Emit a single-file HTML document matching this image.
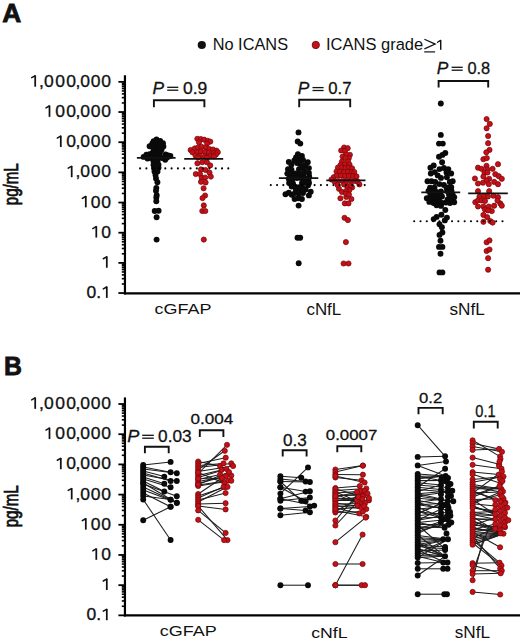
<!DOCTYPE html>
<html><head><meta charset="utf-8"><title>Figure</title><style>
html,body{margin:0;padding:0;background:#fff;overflow:hidden;}
svg{display:block;}
text{font-family:"Liberation Sans",sans-serif;fill:#111;stroke:#111;stroke-width:0.28px;}
</style></head>
<body><svg width="520" height="642" viewBox="0 0 520 642">
<rect width="520" height="642" fill="#fff"/>
<line x1="124.95" y1="75.26" x2="124.95" y2="294.45" stroke="#000" stroke-width="2.2"/>
<line x1="123.85" y1="293.35" x2="520" y2="293.35" stroke="#000" stroke-width="2.3"/>
<line x1="118.4" y1="293.05" x2="125" y2="293.05" stroke="#000" stroke-width="1.8"/>
<line x1="121.8" y1="283.97" x2="125" y2="283.97" stroke="#000" stroke-width="1.6"/>
<line x1="121.8" y1="278.66" x2="125" y2="278.66" stroke="#000" stroke-width="1.6"/>
<line x1="121.8" y1="274.89" x2="125" y2="274.89" stroke="#000" stroke-width="1.6"/>
<line x1="121.8" y1="271.96" x2="125" y2="271.96" stroke="#000" stroke-width="1.6"/>
<line x1="121.8" y1="269.57" x2="125" y2="269.57" stroke="#000" stroke-width="1.6"/>
<line x1="121.8" y1="267.55" x2="125" y2="267.55" stroke="#000" stroke-width="1.6"/>
<line x1="121.8" y1="265.80" x2="125" y2="265.80" stroke="#000" stroke-width="1.6"/>
<line x1="121.8" y1="264.26" x2="125" y2="264.26" stroke="#000" stroke-width="1.6"/>
<text transform="translate(0,298.05) scale(1.18,1.13)" x="73.37 81.54" style="font-size:14.86px">0.</text><path d="M106.80,286.60 V297.90" stroke="#111" stroke-width="1.75" fill="none"/><path d="M103.30,288.90 L106.60,287.00" stroke="#111" stroke-width="1.5" fill="none" stroke-linecap="round"/>
<line x1="118.4" y1="262.88" x2="125" y2="262.88" stroke="#000" stroke-width="1.8"/>
<line x1="121.8" y1="253.80" x2="125" y2="253.80" stroke="#000" stroke-width="1.6"/>
<line x1="121.8" y1="248.49" x2="125" y2="248.49" stroke="#000" stroke-width="1.6"/>
<line x1="121.8" y1="244.72" x2="125" y2="244.72" stroke="#000" stroke-width="1.6"/>
<line x1="121.8" y1="241.79" x2="125" y2="241.79" stroke="#000" stroke-width="1.6"/>
<line x1="121.8" y1="239.40" x2="125" y2="239.40" stroke="#000" stroke-width="1.6"/>
<line x1="121.8" y1="237.38" x2="125" y2="237.38" stroke="#000" stroke-width="1.6"/>
<line x1="121.8" y1="235.63" x2="125" y2="235.63" stroke="#000" stroke-width="1.6"/>
<line x1="121.8" y1="234.09" x2="125" y2="234.09" stroke="#000" stroke-width="1.6"/>
<path d="M106.80,256.43 V267.73" stroke="#111" stroke-width="1.75" fill="none"/><path d="M103.30,258.73 L106.60,256.83" stroke="#111" stroke-width="1.5" fill="none" stroke-linecap="round"/>
<line x1="118.4" y1="232.71" x2="125" y2="232.71" stroke="#000" stroke-width="1.8"/>
<line x1="121.8" y1="223.63" x2="125" y2="223.63" stroke="#000" stroke-width="1.6"/>
<line x1="121.8" y1="218.32" x2="125" y2="218.32" stroke="#000" stroke-width="1.6"/>
<line x1="121.8" y1="214.55" x2="125" y2="214.55" stroke="#000" stroke-width="1.6"/>
<line x1="121.8" y1="211.62" x2="125" y2="211.62" stroke="#000" stroke-width="1.6"/>
<line x1="121.8" y1="209.23" x2="125" y2="209.23" stroke="#000" stroke-width="1.6"/>
<line x1="121.8" y1="207.21" x2="125" y2="207.21" stroke="#000" stroke-width="1.6"/>
<line x1="121.8" y1="205.46" x2="125" y2="205.46" stroke="#000" stroke-width="1.6"/>
<line x1="121.8" y1="203.92" x2="125" y2="203.92" stroke="#000" stroke-width="1.6"/>
<text transform="translate(0,237.71) scale(1.18,1.13)" x="85.91" style="font-size:14.86px">0</text><path d="M96.30,226.26 V237.56" stroke="#111" stroke-width="1.75" fill="none"/><path d="M92.80,228.56 L96.10,226.66" stroke="#111" stroke-width="1.5" fill="none" stroke-linecap="round"/>
<line x1="118.4" y1="202.54" x2="125" y2="202.54" stroke="#000" stroke-width="1.8"/>
<line x1="121.8" y1="193.46" x2="125" y2="193.46" stroke="#000" stroke-width="1.6"/>
<line x1="121.8" y1="188.15" x2="125" y2="188.15" stroke="#000" stroke-width="1.6"/>
<line x1="121.8" y1="184.38" x2="125" y2="184.38" stroke="#000" stroke-width="1.6"/>
<line x1="121.8" y1="181.45" x2="125" y2="181.45" stroke="#000" stroke-width="1.6"/>
<line x1="121.8" y1="179.06" x2="125" y2="179.06" stroke="#000" stroke-width="1.6"/>
<line x1="121.8" y1="177.04" x2="125" y2="177.04" stroke="#000" stroke-width="1.6"/>
<line x1="121.8" y1="175.29" x2="125" y2="175.29" stroke="#000" stroke-width="1.6"/>
<line x1="121.8" y1="173.75" x2="125" y2="173.75" stroke="#000" stroke-width="1.6"/>
<text transform="translate(0,207.54) scale(1.18,1.13)" x="77.01 85.91" style="font-size:14.86px">00</text><path d="M85.80,196.09 V207.39" stroke="#111" stroke-width="1.75" fill="none"/><path d="M82.30,198.39 L85.60,196.49" stroke="#111" stroke-width="1.5" fill="none" stroke-linecap="round"/>
<line x1="118.4" y1="172.37" x2="125" y2="172.37" stroke="#000" stroke-width="1.8"/>
<line x1="121.8" y1="163.29" x2="125" y2="163.29" stroke="#000" stroke-width="1.6"/>
<line x1="121.8" y1="157.98" x2="125" y2="157.98" stroke="#000" stroke-width="1.6"/>
<line x1="121.8" y1="154.21" x2="125" y2="154.21" stroke="#000" stroke-width="1.6"/>
<line x1="121.8" y1="151.28" x2="125" y2="151.28" stroke="#000" stroke-width="1.6"/>
<line x1="121.8" y1="148.89" x2="125" y2="148.89" stroke="#000" stroke-width="1.6"/>
<line x1="121.8" y1="146.87" x2="125" y2="146.87" stroke="#000" stroke-width="1.6"/>
<line x1="121.8" y1="145.12" x2="125" y2="145.12" stroke="#000" stroke-width="1.6"/>
<line x1="121.8" y1="143.58" x2="125" y2="143.58" stroke="#000" stroke-width="1.6"/>
<text transform="translate(0,177.37) scale(1.18,1.13)" x="63.98 68.11 77.01 85.91" style="font-size:14.86px">,000</text><path d="M71.70,165.92 V177.22" stroke="#111" stroke-width="1.75" fill="none"/><path d="M68.20,168.22 L71.50,166.32" stroke="#111" stroke-width="1.5" fill="none" stroke-linecap="round"/>
<line x1="118.4" y1="142.20" x2="125" y2="142.20" stroke="#000" stroke-width="1.8"/>
<line x1="121.8" y1="133.12" x2="125" y2="133.12" stroke="#000" stroke-width="1.6"/>
<line x1="121.8" y1="127.81" x2="125" y2="127.81" stroke="#000" stroke-width="1.6"/>
<line x1="121.8" y1="124.04" x2="125" y2="124.04" stroke="#000" stroke-width="1.6"/>
<line x1="121.8" y1="121.11" x2="125" y2="121.11" stroke="#000" stroke-width="1.6"/>
<line x1="121.8" y1="118.72" x2="125" y2="118.72" stroke="#000" stroke-width="1.6"/>
<line x1="121.8" y1="116.70" x2="125" y2="116.70" stroke="#000" stroke-width="1.6"/>
<line x1="121.8" y1="114.95" x2="125" y2="114.95" stroke="#000" stroke-width="1.6"/>
<line x1="121.8" y1="113.41" x2="125" y2="113.41" stroke="#000" stroke-width="1.6"/>
<text transform="translate(0,147.20) scale(1.18,1.13)" x="56.16 63.98 68.11 77.01 85.91" style="font-size:14.86px">0,000</text><path d="M60.80,135.75 V147.05" stroke="#111" stroke-width="1.75" fill="none"/><path d="M57.30,138.05 L60.60,136.15" stroke="#111" stroke-width="1.5" fill="none" stroke-linecap="round"/>
<line x1="118.4" y1="112.03" x2="125" y2="112.03" stroke="#000" stroke-width="1.8"/>
<line x1="121.8" y1="102.95" x2="125" y2="102.95" stroke="#000" stroke-width="1.6"/>
<line x1="121.8" y1="97.64" x2="125" y2="97.64" stroke="#000" stroke-width="1.6"/>
<line x1="121.8" y1="93.87" x2="125" y2="93.87" stroke="#000" stroke-width="1.6"/>
<line x1="121.8" y1="90.94" x2="125" y2="90.94" stroke="#000" stroke-width="1.6"/>
<line x1="121.8" y1="88.55" x2="125" y2="88.55" stroke="#000" stroke-width="1.6"/>
<line x1="121.8" y1="86.53" x2="125" y2="86.53" stroke="#000" stroke-width="1.6"/>
<line x1="121.8" y1="84.78" x2="125" y2="84.78" stroke="#000" stroke-width="1.6"/>
<line x1="121.8" y1="83.24" x2="125" y2="83.24" stroke="#000" stroke-width="1.6"/>
<text transform="translate(0,117.03) scale(1.18,1.13)" x="46.93 56.16 63.98 68.11 77.01 85.91" style="font-size:14.86px">00,000</text><path d="M49.50,105.58 V116.88" stroke="#111" stroke-width="1.75" fill="none"/><path d="M46.00,107.88 L49.30,105.98" stroke="#111" stroke-width="1.5" fill="none" stroke-linecap="round"/>
<line x1="118.4" y1="81.86" x2="125" y2="81.86" stroke="#000" stroke-width="1.8"/>
<text transform="translate(0,86.86) scale(1.18,1.13)" x="33.13 37.35 46.93 56.16 63.98 68.11 77.01 85.91" style="font-size:14.86px">,000,000</text><path d="M35.20,75.41 V86.71" stroke="#111" stroke-width="1.75" fill="none"/><path d="M31.70,77.71 L35.00,75.81" stroke="#111" stroke-width="1.5" fill="none" stroke-linecap="round"/>
<text transform="translate(18.1,205.21) rotate(-90) scale(0.7445,1)" style="font-size:20.3px;stroke-width:0.75px">pg/mL</text>
<text transform="translate(2.17,22.00) scale(1.0410,1)" style="font-size:25.29px;font-weight:bold;stroke-width:0.8px;">A</text>
<circle cx="201.8" cy="45" r="4.1" fill="#111"/>
<text transform="translate(212.69,49.80) scale(1.0008,1)" style="font-size:16.34px;stroke-width:0;">No ICANS</text>
<circle cx="315.8" cy="45" r="3.65" fill="#c41016" stroke="#780a0e" stroke-width="0.9"/>
<text transform="translate(326.01,49.80) scale(1.0391,1)" style="font-size:15.89px;stroke-width:0;">ICANS grade</text>
<path d="M440.7,40.1 V49.8" stroke="#111" stroke-width="1.45" fill="none"/><path d="M437.6,42.3 L440.5,40.4" stroke="#111" stroke-width="1.3" fill="none" stroke-linecap="round"/>
<path d="M424.4,39.3 L435.2,44.1 L424.4,48.9" fill="none" stroke="#111" stroke-width="1.25"/>
<line x1="424.2" y1="51.9" x2="435.1" y2="51.9" stroke="#111" stroke-width="1.2"/>
<text transform="translate(154.48,314.30) scale(1.1765,1)" style="font-size:15.29px;stroke-width:0;">cGFAP</text>
<text transform="translate(306.42,314.60) scale(1.0844,1)" style="font-size:15.62px;stroke-width:0;">cNfL</text>
<text transform="translate(449.46,314.60) scale(1.0833,1)" style="font-size:15.89px;stroke-width:0;">sNfL</text>
<circle cx="156.50" cy="139.40" r="2.95" fill="#0a0a0a"/>
<circle cx="153.60" cy="141.20" r="2.95" fill="#0a0a0a"/>
<circle cx="160.20" cy="141.00" r="2.95" fill="#0a0a0a"/>
<circle cx="152.30" cy="143.50" r="2.95" fill="#0a0a0a"/>
<circle cx="163.00" cy="143.30" r="2.95" fill="#0a0a0a"/>
<circle cx="149.60" cy="146.30" r="2.95" fill="#0a0a0a"/>
<circle cx="163.40" cy="146.50" r="2.95" fill="#0a0a0a"/>
<circle cx="161.50" cy="149.80" r="2.95" fill="#0a0a0a"/>
<circle cx="155.00" cy="156.50" r="2.95" fill="#0a0a0a"/>
<circle cx="159.00" cy="156.50" r="2.95" fill="#0a0a0a"/>
<circle cx="153.00" cy="156.00" r="2.95" fill="#0a0a0a"/>
<circle cx="156.00" cy="142.00" r="2.95" fill="#0a0a0a"/>
<circle cx="156.00" cy="146.00" r="2.95" fill="#0a0a0a"/>
<circle cx="152.50" cy="145.50" r="2.95" fill="#0a0a0a"/>
<circle cx="160.00" cy="145.00" r="2.95" fill="#0a0a0a"/>
<circle cx="156.00" cy="150.00" r="2.95" fill="#0a0a0a"/>
<circle cx="153.60" cy="149.50" r="2.95" fill="#0a0a0a"/>
<circle cx="159.50" cy="149.50" r="2.95" fill="#0a0a0a"/>
<circle cx="152.50" cy="153.00" r="2.95" fill="#0a0a0a"/>
<circle cx="156.00" cy="154.00" r="2.95" fill="#0a0a0a"/>
<circle cx="160.00" cy="153.00" r="2.95" fill="#0a0a0a"/>
<circle cx="143.60" cy="156.90" r="2.95" fill="#0a0a0a"/>
<circle cx="146.40" cy="154.80" r="2.95" fill="#0a0a0a"/>
<circle cx="149.50" cy="154.30" r="2.95" fill="#0a0a0a"/>
<circle cx="147.50" cy="158.60" r="2.95" fill="#0a0a0a"/>
<circle cx="150.00" cy="158.00" r="2.95" fill="#0a0a0a"/>
<circle cx="168.30" cy="155.40" r="2.95" fill="#0a0a0a"/>
<circle cx="170.40" cy="156.00" r="2.95" fill="#0a0a0a"/>
<circle cx="165.60" cy="154.50" r="2.95" fill="#0a0a0a"/>
<circle cx="165.20" cy="159.80" r="2.95" fill="#0a0a0a"/>
<circle cx="167.20" cy="157.50" r="2.95" fill="#0a0a0a"/>
<circle cx="162.00" cy="158.00" r="2.95" fill="#0a0a0a"/>
<circle cx="153.50" cy="161.20" r="2.95" fill="#0a0a0a"/>
<circle cx="157.50" cy="161.20" r="2.95" fill="#0a0a0a"/>
<circle cx="153.50" cy="164.80" r="2.95" fill="#0a0a0a"/>
<circle cx="158.50" cy="164.80" r="2.95" fill="#0a0a0a"/>
<circle cx="154.00" cy="168.00" r="2.95" fill="#0a0a0a"/>
<circle cx="158.50" cy="167.80" r="2.95" fill="#0a0a0a"/>
<circle cx="154.50" cy="171.50" r="2.95" fill="#0a0a0a"/>
<circle cx="157.50" cy="171.50" r="2.95" fill="#0a0a0a"/>
<circle cx="155.50" cy="175.00" r="2.95" fill="#0a0a0a"/>
<circle cx="156.00" cy="178.50" r="2.95" fill="#0a0a0a"/>
<circle cx="157.40" cy="182.30" r="2.95" fill="#0a0a0a"/>
<circle cx="156.30" cy="187.90" r="2.95" fill="#0a0a0a"/>
<circle cx="156.00" cy="190.80" r="2.95" fill="#0a0a0a"/>
<circle cx="156.70" cy="195.20" r="2.95" fill="#0a0a0a"/>
<circle cx="156.30" cy="197.50" r="2.95" fill="#0a0a0a"/>
<circle cx="156.30" cy="201.20" r="2.95" fill="#0a0a0a"/>
<circle cx="154.70" cy="211.00" r="2.95" fill="#0a0a0a"/>
<circle cx="158.60" cy="210.80" r="2.95" fill="#0a0a0a"/>
<circle cx="156.60" cy="217.30" r="2.95" fill="#0a0a0a"/>
<circle cx="156.60" cy="239.60" r="2.95" fill="#0a0a0a"/>
<circle cx="197.30" cy="138.80" r="2.58" fill="#c41016" stroke="#780a0e" stroke-width="0.75"/>
<circle cx="200.80" cy="139.00" r="2.58" fill="#c41016" stroke="#780a0e" stroke-width="0.75"/>
<circle cx="204.20" cy="139.70" r="2.58" fill="#c41016" stroke="#780a0e" stroke-width="0.75"/>
<circle cx="207.70" cy="140.80" r="2.58" fill="#c41016" stroke="#780a0e" stroke-width="0.75"/>
<circle cx="210.30" cy="141.60" r="2.58" fill="#c41016" stroke="#780a0e" stroke-width="0.75"/>
<circle cx="199.00" cy="142.30" r="2.58" fill="#c41016" stroke="#780a0e" stroke-width="0.75"/>
<circle cx="207.10" cy="143.50" r="2.58" fill="#c41016" stroke="#780a0e" stroke-width="0.75"/>
<circle cx="190.60" cy="150.00" r="2.58" fill="#c41016" stroke="#780a0e" stroke-width="0.75"/>
<circle cx="194.80" cy="148.40" r="2.58" fill="#c41016" stroke="#780a0e" stroke-width="0.75"/>
<circle cx="198.00" cy="147.50" r="2.58" fill="#c41016" stroke="#780a0e" stroke-width="0.75"/>
<circle cx="201.70" cy="146.80" r="2.58" fill="#c41016" stroke="#780a0e" stroke-width="0.75"/>
<circle cx="206.00" cy="147.50" r="2.58" fill="#c41016" stroke="#780a0e" stroke-width="0.75"/>
<circle cx="209.50" cy="149.00" r="2.58" fill="#c41016" stroke="#780a0e" stroke-width="0.75"/>
<circle cx="213.00" cy="149.50" r="2.58" fill="#c41016" stroke="#780a0e" stroke-width="0.75"/>
<circle cx="216.40" cy="150.60" r="2.58" fill="#c41016" stroke="#780a0e" stroke-width="0.75"/>
<circle cx="217.80" cy="152.20" r="2.58" fill="#c41016" stroke="#780a0e" stroke-width="0.75"/>
<circle cx="192.50" cy="152.30" r="2.58" fill="#c41016" stroke="#780a0e" stroke-width="0.75"/>
<circle cx="197.00" cy="152.00" r="2.58" fill="#c41016" stroke="#780a0e" stroke-width="0.75"/>
<circle cx="201.00" cy="151.50" r="2.58" fill="#c41016" stroke="#780a0e" stroke-width="0.75"/>
<circle cx="205.00" cy="152.00" r="2.58" fill="#c41016" stroke="#780a0e" stroke-width="0.75"/>
<circle cx="209.00" cy="152.50" r="2.58" fill="#c41016" stroke="#780a0e" stroke-width="0.75"/>
<circle cx="213.50" cy="153.00" r="2.58" fill="#c41016" stroke="#780a0e" stroke-width="0.75"/>
<circle cx="216.00" cy="154.50" r="2.58" fill="#c41016" stroke="#780a0e" stroke-width="0.75"/>
<circle cx="195.50" cy="155.50" r="2.58" fill="#c41016" stroke="#780a0e" stroke-width="0.75"/>
<circle cx="200.00" cy="156.00" r="2.58" fill="#c41016" stroke="#780a0e" stroke-width="0.75"/>
<circle cx="205.00" cy="156.50" r="2.58" fill="#c41016" stroke="#780a0e" stroke-width="0.75"/>
<circle cx="210.00" cy="156.00" r="2.58" fill="#c41016" stroke="#780a0e" stroke-width="0.75"/>
<circle cx="214.00" cy="156.50" r="2.58" fill="#c41016" stroke="#780a0e" stroke-width="0.75"/>
<circle cx="198.00" cy="157.50" r="2.58" fill="#c41016" stroke="#780a0e" stroke-width="0.75"/>
<circle cx="207.00" cy="157.80" r="2.58" fill="#c41016" stroke="#780a0e" stroke-width="0.75"/>
<circle cx="197.40" cy="163.30" r="2.58" fill="#c41016" stroke="#780a0e" stroke-width="0.75"/>
<circle cx="202.30" cy="162.20" r="2.58" fill="#c41016" stroke="#780a0e" stroke-width="0.75"/>
<circle cx="206.90" cy="162.20" r="2.58" fill="#c41016" stroke="#780a0e" stroke-width="0.75"/>
<circle cx="210.20" cy="165.40" r="2.58" fill="#c41016" stroke="#780a0e" stroke-width="0.75"/>
<circle cx="201.00" cy="169.40" r="2.58" fill="#c41016" stroke="#780a0e" stroke-width="0.75"/>
<circle cx="205.60" cy="170.00" r="2.58" fill="#c41016" stroke="#780a0e" stroke-width="0.75"/>
<circle cx="195.80" cy="174.00" r="2.58" fill="#c41016" stroke="#780a0e" stroke-width="0.75"/>
<circle cx="200.00" cy="174.00" r="2.58" fill="#c41016" stroke="#780a0e" stroke-width="0.75"/>
<circle cx="209.50" cy="172.60" r="2.58" fill="#c41016" stroke="#780a0e" stroke-width="0.75"/>
<circle cx="210.80" cy="176.60" r="2.58" fill="#c41016" stroke="#780a0e" stroke-width="0.75"/>
<circle cx="201.70" cy="177.90" r="2.58" fill="#c41016" stroke="#780a0e" stroke-width="0.75"/>
<circle cx="205.20" cy="177.50" r="2.58" fill="#c41016" stroke="#780a0e" stroke-width="0.75"/>
<circle cx="201.00" cy="181.80" r="2.58" fill="#c41016" stroke="#780a0e" stroke-width="0.75"/>
<circle cx="205.60" cy="182.50" r="2.58" fill="#c41016" stroke="#780a0e" stroke-width="0.75"/>
<circle cx="203.60" cy="188.30" r="2.58" fill="#c41016" stroke="#780a0e" stroke-width="0.75"/>
<circle cx="205.10" cy="195.50" r="2.58" fill="#c41016" stroke="#780a0e" stroke-width="0.75"/>
<circle cx="202.50" cy="198.10" r="2.58" fill="#c41016" stroke="#780a0e" stroke-width="0.75"/>
<circle cx="203.80" cy="205.40" r="2.58" fill="#c41016" stroke="#780a0e" stroke-width="0.75"/>
<circle cx="202.30" cy="211.00" r="2.58" fill="#c41016" stroke="#780a0e" stroke-width="0.75"/>
<circle cx="205.30" cy="211.00" r="2.58" fill="#c41016" stroke="#780a0e" stroke-width="0.75"/>
<circle cx="203.80" cy="239.60" r="2.58" fill="#c41016" stroke="#780a0e" stroke-width="0.75"/>
<circle cx="298.50" cy="132.40" r="2.95" fill="#0a0a0a"/>
<circle cx="297.70" cy="141.40" r="2.95" fill="#0a0a0a"/>
<circle cx="300.30" cy="143.60" r="2.95" fill="#0a0a0a"/>
<circle cx="297.90" cy="154.20" r="2.95" fill="#0a0a0a"/>
<circle cx="301.90" cy="156.00" r="2.95" fill="#0a0a0a"/>
<circle cx="296.00" cy="157.50" r="2.95" fill="#0a0a0a"/>
<circle cx="288.80" cy="161.90" r="2.95" fill="#0a0a0a"/>
<circle cx="294.30" cy="160.40" r="2.95" fill="#0a0a0a"/>
<circle cx="299.40" cy="159.00" r="2.95" fill="#0a0a0a"/>
<circle cx="307.80" cy="162.30" r="2.95" fill="#0a0a0a"/>
<circle cx="303.00" cy="160.00" r="2.95" fill="#0a0a0a"/>
<circle cx="291.30" cy="164.80" r="2.95" fill="#0a0a0a"/>
<circle cx="305.20" cy="165.20" r="2.95" fill="#0a0a0a"/>
<circle cx="300.00" cy="164.00" r="2.95" fill="#0a0a0a"/>
<circle cx="297.00" cy="163.00" r="2.95" fill="#0a0a0a"/>
<circle cx="308.90" cy="168.10" r="2.95" fill="#0a0a0a"/>
<circle cx="288.00" cy="169.20" r="2.95" fill="#0a0a0a"/>
<circle cx="291.50" cy="169.60" r="2.95" fill="#0a0a0a"/>
<circle cx="299.00" cy="169.20" r="2.95" fill="#0a0a0a"/>
<circle cx="304.10" cy="170.70" r="2.95" fill="#0a0a0a"/>
<circle cx="302.00" cy="167.00" r="2.95" fill="#0a0a0a"/>
<circle cx="287.30" cy="173.60" r="2.95" fill="#0a0a0a"/>
<circle cx="291.50" cy="174.00" r="2.95" fill="#0a0a0a"/>
<circle cx="295.50" cy="173.50" r="2.95" fill="#0a0a0a"/>
<circle cx="299.50" cy="174.00" r="2.95" fill="#0a0a0a"/>
<circle cx="303.50" cy="174.00" r="2.95" fill="#0a0a0a"/>
<circle cx="308.90" cy="172.90" r="2.95" fill="#0a0a0a"/>
<circle cx="288.80" cy="178.70" r="2.95" fill="#0a0a0a"/>
<circle cx="292.80" cy="178.50" r="2.95" fill="#0a0a0a"/>
<circle cx="297.00" cy="178.00" r="2.95" fill="#0a0a0a"/>
<circle cx="301.00" cy="178.00" r="2.95" fill="#0a0a0a"/>
<circle cx="305.00" cy="178.50" r="2.95" fill="#0a0a0a"/>
<circle cx="309.20" cy="176.50" r="2.95" fill="#0a0a0a"/>
<circle cx="308.50" cy="180.00" r="2.95" fill="#0a0a0a"/>
<circle cx="289.10" cy="183.00" r="2.95" fill="#0a0a0a"/>
<circle cx="293.00" cy="183.50" r="2.95" fill="#0a0a0a"/>
<circle cx="302.00" cy="183.00" r="2.95" fill="#0a0a0a"/>
<circle cx="306.00" cy="182.50" r="2.95" fill="#0a0a0a"/>
<circle cx="309.00" cy="183.00" r="2.95" fill="#0a0a0a"/>
<circle cx="291.70" cy="186.60" r="2.95" fill="#0a0a0a"/>
<circle cx="295.50" cy="187.30" r="2.95" fill="#0a0a0a"/>
<circle cx="299.00" cy="187.30" r="2.95" fill="#0a0a0a"/>
<circle cx="302.50" cy="187.50" r="2.95" fill="#0a0a0a"/>
<circle cx="308.10" cy="185.20" r="2.95" fill="#0a0a0a"/>
<circle cx="305.60" cy="189.50" r="2.95" fill="#0a0a0a"/>
<circle cx="296.00" cy="189.50" r="2.95" fill="#0a0a0a"/>
<circle cx="300.00" cy="189.50" r="2.95" fill="#0a0a0a"/>
<circle cx="288.80" cy="192.80" r="2.95" fill="#0a0a0a"/>
<circle cx="285.50" cy="194.30" r="2.95" fill="#0a0a0a"/>
<circle cx="291.70" cy="194.70" r="2.95" fill="#0a0a0a"/>
<circle cx="295.00" cy="193.00" r="2.95" fill="#0a0a0a"/>
<circle cx="299.00" cy="193.50" r="2.95" fill="#0a0a0a"/>
<circle cx="303.00" cy="193.00" r="2.95" fill="#0a0a0a"/>
<circle cx="310.70" cy="191.70" r="2.95" fill="#0a0a0a"/>
<circle cx="308.90" cy="195.40" r="2.95" fill="#0a0a0a"/>
<circle cx="294.60" cy="199.00" r="2.95" fill="#0a0a0a"/>
<circle cx="298.30" cy="198.30" r="2.95" fill="#0a0a0a"/>
<circle cx="301.90" cy="199.00" r="2.95" fill="#0a0a0a"/>
<circle cx="298.60" cy="205.60" r="2.95" fill="#0a0a0a"/>
<circle cx="297.50" cy="237.70" r="2.95" fill="#0a0a0a"/>
<circle cx="300.20" cy="237.70" r="2.95" fill="#0a0a0a"/>
<circle cx="298.70" cy="263.30" r="2.95" fill="#0a0a0a"/>
<circle cx="344.10" cy="147.50" r="2.58" fill="#c41016" stroke="#780a0e" stroke-width="0.75"/>
<circle cx="347.70" cy="148.20" r="2.58" fill="#c41016" stroke="#780a0e" stroke-width="0.75"/>
<circle cx="341.20" cy="150.50" r="2.58" fill="#c41016" stroke="#780a0e" stroke-width="0.75"/>
<circle cx="345.00" cy="151.00" r="2.58" fill="#c41016" stroke="#780a0e" stroke-width="0.75"/>
<circle cx="349.90" cy="154.80" r="2.58" fill="#c41016" stroke="#780a0e" stroke-width="0.75"/>
<circle cx="346.00" cy="154.50" r="2.58" fill="#c41016" stroke="#780a0e" stroke-width="0.75"/>
<circle cx="342.60" cy="156.60" r="2.58" fill="#c41016" stroke="#780a0e" stroke-width="0.75"/>
<circle cx="348.80" cy="158.10" r="2.58" fill="#c41016" stroke="#780a0e" stroke-width="0.75"/>
<circle cx="345.50" cy="158.00" r="2.58" fill="#c41016" stroke="#780a0e" stroke-width="0.75"/>
<circle cx="341.90" cy="161.70" r="2.58" fill="#c41016" stroke="#780a0e" stroke-width="0.75"/>
<circle cx="348.00" cy="161.50" r="2.58" fill="#c41016" stroke="#780a0e" stroke-width="0.75"/>
<circle cx="344.80" cy="164.20" r="2.58" fill="#c41016" stroke="#780a0e" stroke-width="0.75"/>
<circle cx="349.50" cy="164.50" r="2.58" fill="#c41016" stroke="#780a0e" stroke-width="0.75"/>
<circle cx="340.50" cy="165.00" r="2.58" fill="#c41016" stroke="#780a0e" stroke-width="0.75"/>
<circle cx="337.90" cy="167.60" r="2.58" fill="#c41016" stroke="#780a0e" stroke-width="0.75"/>
<circle cx="341.50" cy="167.50" r="2.58" fill="#c41016" stroke="#780a0e" stroke-width="0.75"/>
<circle cx="345.50" cy="168.00" r="2.58" fill="#c41016" stroke="#780a0e" stroke-width="0.75"/>
<circle cx="349.00" cy="167.50" r="2.58" fill="#c41016" stroke="#780a0e" stroke-width="0.75"/>
<circle cx="352.10" cy="168.30" r="2.58" fill="#c41016" stroke="#780a0e" stroke-width="0.75"/>
<circle cx="336.50" cy="171.50" r="2.58" fill="#c41016" stroke="#780a0e" stroke-width="0.75"/>
<circle cx="340.00" cy="171.50" r="2.58" fill="#c41016" stroke="#780a0e" stroke-width="0.75"/>
<circle cx="344.00" cy="172.00" r="2.58" fill="#c41016" stroke="#780a0e" stroke-width="0.75"/>
<circle cx="348.00" cy="171.50" r="2.58" fill="#c41016" stroke="#780a0e" stroke-width="0.75"/>
<circle cx="351.50" cy="172.00" r="2.58" fill="#c41016" stroke="#780a0e" stroke-width="0.75"/>
<circle cx="354.30" cy="172.00" r="2.58" fill="#c41016" stroke="#780a0e" stroke-width="0.75"/>
<circle cx="333.80" cy="177.10" r="2.58" fill="#c41016" stroke="#780a0e" stroke-width="0.75"/>
<circle cx="337.00" cy="175.50" r="2.58" fill="#c41016" stroke="#780a0e" stroke-width="0.75"/>
<circle cx="341.00" cy="175.50" r="2.58" fill="#c41016" stroke="#780a0e" stroke-width="0.75"/>
<circle cx="345.00" cy="176.00" r="2.58" fill="#c41016" stroke="#780a0e" stroke-width="0.75"/>
<circle cx="349.00" cy="176.00" r="2.58" fill="#c41016" stroke="#780a0e" stroke-width="0.75"/>
<circle cx="353.00" cy="176.00" r="2.58" fill="#c41016" stroke="#780a0e" stroke-width="0.75"/>
<circle cx="356.50" cy="176.40" r="2.58" fill="#c41016" stroke="#780a0e" stroke-width="0.75"/>
<circle cx="331.50" cy="179.50" r="2.58" fill="#c41016" stroke="#780a0e" stroke-width="0.75"/>
<circle cx="334.50" cy="181.50" r="2.58" fill="#c41016" stroke="#780a0e" stroke-width="0.75"/>
<circle cx="338.50" cy="181.00" r="2.58" fill="#c41016" stroke="#780a0e" stroke-width="0.75"/>
<circle cx="342.50" cy="181.00" r="2.58" fill="#c41016" stroke="#780a0e" stroke-width="0.75"/>
<circle cx="346.50" cy="181.00" r="2.58" fill="#c41016" stroke="#780a0e" stroke-width="0.75"/>
<circle cx="350.50" cy="181.00" r="2.58" fill="#c41016" stroke="#780a0e" stroke-width="0.75"/>
<circle cx="354.50" cy="181.00" r="2.58" fill="#c41016" stroke="#780a0e" stroke-width="0.75"/>
<circle cx="357.50" cy="181.50" r="2.58" fill="#c41016" stroke="#780a0e" stroke-width="0.75"/>
<circle cx="359.40" cy="184.40" r="2.58" fill="#c41016" stroke="#780a0e" stroke-width="0.75"/>
<circle cx="339.00" cy="188.80" r="2.58" fill="#c41016" stroke="#780a0e" stroke-width="0.75"/>
<circle cx="347.00" cy="186.00" r="2.58" fill="#c41016" stroke="#780a0e" stroke-width="0.75"/>
<circle cx="352.10" cy="187.40" r="2.58" fill="#c41016" stroke="#780a0e" stroke-width="0.75"/>
<circle cx="337.50" cy="185.00" r="2.58" fill="#c41016" stroke="#780a0e" stroke-width="0.75"/>
<circle cx="344.00" cy="184.50" r="2.58" fill="#c41016" stroke="#780a0e" stroke-width="0.75"/>
<circle cx="351.00" cy="185.50" r="2.58" fill="#c41016" stroke="#780a0e" stroke-width="0.75"/>
<circle cx="342.00" cy="192.00" r="2.58" fill="#c41016" stroke="#780a0e" stroke-width="0.75"/>
<circle cx="349.20" cy="190.30" r="2.58" fill="#c41016" stroke="#780a0e" stroke-width="0.75"/>
<circle cx="346.00" cy="191.00" r="2.58" fill="#c41016" stroke="#780a0e" stroke-width="0.75"/>
<circle cx="340.40" cy="198.30" r="2.58" fill="#c41016" stroke="#780a0e" stroke-width="0.75"/>
<circle cx="346.30" cy="196.90" r="2.58" fill="#c41016" stroke="#780a0e" stroke-width="0.75"/>
<circle cx="351.40" cy="199.00" r="2.58" fill="#c41016" stroke="#780a0e" stroke-width="0.75"/>
<circle cx="346.00" cy="193.50" r="2.58" fill="#c41016" stroke="#780a0e" stroke-width="0.75"/>
<circle cx="349.00" cy="194.50" r="2.58" fill="#c41016" stroke="#780a0e" stroke-width="0.75"/>
<circle cx="344.80" cy="203.40" r="2.58" fill="#c41016" stroke="#780a0e" stroke-width="0.75"/>
<circle cx="348.50" cy="203.40" r="2.58" fill="#c41016" stroke="#780a0e" stroke-width="0.75"/>
<circle cx="344.50" cy="217.80" r="2.58" fill="#c41016" stroke="#780a0e" stroke-width="0.75"/>
<circle cx="347.90" cy="220.10" r="2.58" fill="#c41016" stroke="#780a0e" stroke-width="0.75"/>
<circle cx="345.90" cy="242.10" r="2.58" fill="#c41016" stroke="#780a0e" stroke-width="0.75"/>
<circle cx="343.60" cy="263.50" r="2.58" fill="#c41016" stroke="#780a0e" stroke-width="0.75"/>
<circle cx="348.50" cy="263.50" r="2.58" fill="#c41016" stroke="#780a0e" stroke-width="0.75"/>
<circle cx="440.80" cy="103.50" r="2.95" fill="#0a0a0a"/>
<circle cx="440.80" cy="134.90" r="2.95" fill="#0a0a0a"/>
<circle cx="439.00" cy="143.60" r="2.95" fill="#0a0a0a"/>
<circle cx="442.80" cy="143.60" r="2.95" fill="#0a0a0a"/>
<circle cx="439.00" cy="156.80" r="2.95" fill="#0a0a0a"/>
<circle cx="442.40" cy="154.90" r="2.95" fill="#0a0a0a"/>
<circle cx="445.30" cy="153.00" r="2.95" fill="#0a0a0a"/>
<circle cx="442.10" cy="162.20" r="2.95" fill="#0a0a0a"/>
<circle cx="433.70" cy="165.50" r="2.95" fill="#0a0a0a"/>
<circle cx="430.40" cy="167.70" r="2.95" fill="#0a0a0a"/>
<circle cx="439.50" cy="169.10" r="2.95" fill="#0a0a0a"/>
<circle cx="443.90" cy="168.00" r="2.95" fill="#0a0a0a"/>
<circle cx="448.30" cy="169.10" r="2.95" fill="#0a0a0a"/>
<circle cx="430.80" cy="173.50" r="2.95" fill="#0a0a0a"/>
<circle cx="434.80" cy="172.10" r="2.95" fill="#0a0a0a"/>
<circle cx="437.70" cy="175.40" r="2.95" fill="#0a0a0a"/>
<circle cx="451.20" cy="173.50" r="2.95" fill="#0a0a0a"/>
<circle cx="446.50" cy="172.50" r="2.95" fill="#0a0a0a"/>
<circle cx="441.00" cy="177.90" r="2.95" fill="#0a0a0a"/>
<circle cx="446.90" cy="177.20" r="2.95" fill="#0a0a0a"/>
<circle cx="427.50" cy="181.20" r="2.95" fill="#0a0a0a"/>
<circle cx="431.50" cy="181.20" r="2.95" fill="#0a0a0a"/>
<circle cx="435.20" cy="182.00" r="2.95" fill="#0a0a0a"/>
<circle cx="452.70" cy="181.20" r="2.95" fill="#0a0a0a"/>
<circle cx="449.80" cy="182.00" r="2.95" fill="#0a0a0a"/>
<circle cx="439.50" cy="184.10" r="2.95" fill="#0a0a0a"/>
<circle cx="443.90" cy="184.90" r="2.95" fill="#0a0a0a"/>
<circle cx="430.00" cy="187.80" r="2.95" fill="#0a0a0a"/>
<circle cx="434.50" cy="187.50" r="2.95" fill="#0a0a0a"/>
<circle cx="450.50" cy="187.00" r="2.95" fill="#0a0a0a"/>
<circle cx="446.50" cy="187.50" r="2.95" fill="#0a0a0a"/>
<circle cx="451.20" cy="187.30" r="2.95" fill="#0a0a0a"/>
<circle cx="428.50" cy="191.00" r="2.95" fill="#0a0a0a"/>
<circle cx="432.50" cy="191.50" r="2.95" fill="#0a0a0a"/>
<circle cx="436.50" cy="192.00" r="2.95" fill="#0a0a0a"/>
<circle cx="441.00" cy="191.50" r="2.95" fill="#0a0a0a"/>
<circle cx="447.00" cy="191.00" r="2.95" fill="#0a0a0a"/>
<circle cx="451.50" cy="191.00" r="2.95" fill="#0a0a0a"/>
<circle cx="430.40" cy="195.00" r="2.95" fill="#0a0a0a"/>
<circle cx="434.50" cy="195.00" r="2.95" fill="#0a0a0a"/>
<circle cx="438.50" cy="195.50" r="2.95" fill="#0a0a0a"/>
<circle cx="442.00" cy="196.50" r="2.95" fill="#0a0a0a"/>
<circle cx="452.70" cy="195.00" r="2.95" fill="#0a0a0a"/>
<circle cx="454.20" cy="197.20" r="2.95" fill="#0a0a0a"/>
<circle cx="449.00" cy="194.50" r="2.95" fill="#0a0a0a"/>
<circle cx="426.80" cy="198.30" r="2.95" fill="#0a0a0a"/>
<circle cx="431.00" cy="199.00" r="2.95" fill="#0a0a0a"/>
<circle cx="435.00" cy="199.00" r="2.95" fill="#0a0a0a"/>
<circle cx="439.00" cy="199.50" r="2.95" fill="#0a0a0a"/>
<circle cx="447.60" cy="199.40" r="2.95" fill="#0a0a0a"/>
<circle cx="451.00" cy="199.50" r="2.95" fill="#0a0a0a"/>
<circle cx="454.20" cy="202.30" r="2.95" fill="#0a0a0a"/>
<circle cx="429.30" cy="201.90" r="2.95" fill="#0a0a0a"/>
<circle cx="433.50" cy="203.00" r="2.95" fill="#0a0a0a"/>
<circle cx="437.50" cy="202.50" r="2.95" fill="#0a0a0a"/>
<circle cx="442.10" cy="203.00" r="2.95" fill="#0a0a0a"/>
<circle cx="446.00" cy="202.50" r="2.95" fill="#0a0a0a"/>
<circle cx="450.00" cy="203.00" r="2.95" fill="#0a0a0a"/>
<circle cx="436.60" cy="205.20" r="2.95" fill="#0a0a0a"/>
<circle cx="441.00" cy="205.90" r="2.95" fill="#0a0a0a"/>
<circle cx="445.30" cy="210.00" r="2.95" fill="#0a0a0a"/>
<circle cx="441.40" cy="214.70" r="2.95" fill="#0a0a0a"/>
<circle cx="436.60" cy="216.90" r="2.95" fill="#0a0a0a"/>
<circle cx="433.70" cy="219.10" r="2.95" fill="#0a0a0a"/>
<circle cx="446.90" cy="217.60" r="2.95" fill="#0a0a0a"/>
<circle cx="444.80" cy="220.40" r="2.95" fill="#0a0a0a"/>
<circle cx="439.50" cy="224.20" r="2.95" fill="#0a0a0a"/>
<circle cx="441.90" cy="227.20" r="2.95" fill="#0a0a0a"/>
<circle cx="442.40" cy="232.50" r="2.95" fill="#0a0a0a"/>
<circle cx="439.50" cy="234.90" r="2.95" fill="#0a0a0a"/>
<circle cx="440.50" cy="240.70" r="2.95" fill="#0a0a0a"/>
<circle cx="439.00" cy="246.90" r="2.95" fill="#0a0a0a"/>
<circle cx="442.40" cy="246.90" r="2.95" fill="#0a0a0a"/>
<circle cx="440.50" cy="253.70" r="2.95" fill="#0a0a0a"/>
<circle cx="439.50" cy="272.40" r="2.95" fill="#0a0a0a"/>
<circle cx="442.40" cy="272.40" r="2.95" fill="#0a0a0a"/>
<circle cx="486.60" cy="119.10" r="2.58" fill="#c41016" stroke="#780a0e" stroke-width="0.75"/>
<circle cx="489.80" cy="123.90" r="2.58" fill="#c41016" stroke="#780a0e" stroke-width="0.75"/>
<circle cx="486.60" cy="128.30" r="2.58" fill="#c41016" stroke="#780a0e" stroke-width="0.75"/>
<circle cx="488.10" cy="136.00" r="2.58" fill="#c41016" stroke="#780a0e" stroke-width="0.75"/>
<circle cx="488.10" cy="143.20" r="2.58" fill="#c41016" stroke="#780a0e" stroke-width="0.75"/>
<circle cx="489.50" cy="149.90" r="2.58" fill="#c41016" stroke="#780a0e" stroke-width="0.75"/>
<circle cx="486.30" cy="152.30" r="2.58" fill="#c41016" stroke="#780a0e" stroke-width="0.75"/>
<circle cx="483.40" cy="159.20" r="2.58" fill="#c41016" stroke="#780a0e" stroke-width="0.75"/>
<circle cx="486.80" cy="158.10" r="2.58" fill="#c41016" stroke="#780a0e" stroke-width="0.75"/>
<circle cx="498.00" cy="164.20" r="2.58" fill="#c41016" stroke="#780a0e" stroke-width="0.75"/>
<circle cx="478.00" cy="167.70" r="2.58" fill="#c41016" stroke="#780a0e" stroke-width="0.75"/>
<circle cx="481.50" cy="168.80" r="2.58" fill="#c41016" stroke="#780a0e" stroke-width="0.75"/>
<circle cx="486.50" cy="165.80" r="2.58" fill="#c41016" stroke="#780a0e" stroke-width="0.75"/>
<circle cx="487.20" cy="169.20" r="2.58" fill="#c41016" stroke="#780a0e" stroke-width="0.75"/>
<circle cx="492.60" cy="168.80" r="2.58" fill="#c41016" stroke="#780a0e" stroke-width="0.75"/>
<circle cx="484.50" cy="172.70" r="2.58" fill="#c41016" stroke="#780a0e" stroke-width="0.75"/>
<circle cx="487.50" cy="172.50" r="2.58" fill="#c41016" stroke="#780a0e" stroke-width="0.75"/>
<circle cx="495.30" cy="174.20" r="2.58" fill="#c41016" stroke="#780a0e" stroke-width="0.75"/>
<circle cx="498.80" cy="176.20" r="2.58" fill="#c41016" stroke="#780a0e" stroke-width="0.75"/>
<circle cx="483.40" cy="176.50" r="2.58" fill="#c41016" stroke="#780a0e" stroke-width="0.75"/>
<circle cx="474.90" cy="178.50" r="2.58" fill="#c41016" stroke="#780a0e" stroke-width="0.75"/>
<circle cx="501.80" cy="178.80" r="2.58" fill="#c41016" stroke="#780a0e" stroke-width="0.75"/>
<circle cx="489.20" cy="178.80" r="2.58" fill="#c41016" stroke="#780a0e" stroke-width="0.75"/>
<circle cx="486.50" cy="180.50" r="2.58" fill="#c41016" stroke="#780a0e" stroke-width="0.75"/>
<circle cx="478.00" cy="183.50" r="2.58" fill="#c41016" stroke="#780a0e" stroke-width="0.75"/>
<circle cx="483.00" cy="182.70" r="2.58" fill="#c41016" stroke="#780a0e" stroke-width="0.75"/>
<circle cx="488.80" cy="184.20" r="2.58" fill="#c41016" stroke="#780a0e" stroke-width="0.75"/>
<circle cx="494.20" cy="181.90" r="2.58" fill="#c41016" stroke="#780a0e" stroke-width="0.75"/>
<circle cx="498.00" cy="184.20" r="2.58" fill="#c41016" stroke="#780a0e" stroke-width="0.75"/>
<circle cx="478.00" cy="191.20" r="2.58" fill="#c41016" stroke="#780a0e" stroke-width="0.75"/>
<circle cx="489.20" cy="191.20" r="2.58" fill="#c41016" stroke="#780a0e" stroke-width="0.75"/>
<circle cx="479.50" cy="196.50" r="2.58" fill="#c41016" stroke="#780a0e" stroke-width="0.75"/>
<circle cx="484.00" cy="196.00" r="2.58" fill="#c41016" stroke="#780a0e" stroke-width="0.75"/>
<circle cx="488.00" cy="196.50" r="2.58" fill="#c41016" stroke="#780a0e" stroke-width="0.75"/>
<circle cx="493.40" cy="195.70" r="2.58" fill="#c41016" stroke="#780a0e" stroke-width="0.75"/>
<circle cx="498.00" cy="197.20" r="2.58" fill="#c41016" stroke="#780a0e" stroke-width="0.75"/>
<circle cx="475.30" cy="202.20" r="2.58" fill="#c41016" stroke="#780a0e" stroke-width="0.75"/>
<circle cx="478.00" cy="200.30" r="2.58" fill="#c41016" stroke="#780a0e" stroke-width="0.75"/>
<circle cx="481.50" cy="200.50" r="2.58" fill="#c41016" stroke="#780a0e" stroke-width="0.75"/>
<circle cx="485.00" cy="201.00" r="2.58" fill="#c41016" stroke="#780a0e" stroke-width="0.75"/>
<circle cx="500.30" cy="203.40" r="2.58" fill="#c41016" stroke="#780a0e" stroke-width="0.75"/>
<circle cx="501.80" cy="205.70" r="2.58" fill="#c41016" stroke="#780a0e" stroke-width="0.75"/>
<circle cx="497.50" cy="200.50" r="2.58" fill="#c41016" stroke="#780a0e" stroke-width="0.75"/>
<circle cx="478.00" cy="206.50" r="2.58" fill="#c41016" stroke="#780a0e" stroke-width="0.75"/>
<circle cx="483.40" cy="206.50" r="2.58" fill="#c41016" stroke="#780a0e" stroke-width="0.75"/>
<circle cx="488.80" cy="206.50" r="2.58" fill="#c41016" stroke="#780a0e" stroke-width="0.75"/>
<circle cx="494.20" cy="205.70" r="2.58" fill="#c41016" stroke="#780a0e" stroke-width="0.75"/>
<circle cx="484.90" cy="209.50" r="2.58" fill="#c41016" stroke="#780a0e" stroke-width="0.75"/>
<circle cx="491.80" cy="211.10" r="2.58" fill="#c41016" stroke="#780a0e" stroke-width="0.75"/>
<circle cx="488.00" cy="210.50" r="2.58" fill="#c41016" stroke="#780a0e" stroke-width="0.75"/>
<circle cx="483.40" cy="214.90" r="2.58" fill="#c41016" stroke="#780a0e" stroke-width="0.75"/>
<circle cx="487.20" cy="217.20" r="2.58" fill="#c41016" stroke="#780a0e" stroke-width="0.75"/>
<circle cx="483.40" cy="221.80" r="2.58" fill="#c41016" stroke="#780a0e" stroke-width="0.75"/>
<circle cx="490.30" cy="221.10" r="2.58" fill="#c41016" stroke="#780a0e" stroke-width="0.75"/>
<circle cx="492.60" cy="222.60" r="2.58" fill="#c41016" stroke="#780a0e" stroke-width="0.75"/>
<circle cx="486.60" cy="242.30" r="2.58" fill="#c41016" stroke="#780a0e" stroke-width="0.75"/>
<circle cx="489.50" cy="240.40" r="2.58" fill="#c41016" stroke="#780a0e" stroke-width="0.75"/>
<circle cx="486.60" cy="251.00" r="2.58" fill="#c41016" stroke="#780a0e" stroke-width="0.75"/>
<circle cx="489.50" cy="249.50" r="2.58" fill="#c41016" stroke="#780a0e" stroke-width="0.75"/>
<circle cx="488.10" cy="258.20" r="2.58" fill="#c41016" stroke="#780a0e" stroke-width="0.75"/>
<circle cx="488.10" cy="269.70" r="2.58" fill="#c41016" stroke="#780a0e" stroke-width="0.75"/>
<line x1="136.9" y1="157.8" x2="175.6" y2="157.8" stroke="#111" stroke-width="1.8"/>
<line x1="184.2" y1="158.8" x2="223.2" y2="158.8" stroke="#111" stroke-width="1.8"/>
<line x1="278.9" y1="178.2" x2="318.3" y2="178.2" stroke="#111" stroke-width="1.8"/>
<line x1="326.3" y1="180.4" x2="365.5" y2="180.4" stroke="#111" stroke-width="1.8"/>
<line x1="421.3" y1="192.4" x2="460.2" y2="192.4" stroke="#111" stroke-width="1.8"/>
<line x1="468.2" y1="193.4" x2="507.8" y2="193.4" stroke="#111" stroke-width="1.8"/>
<circle cx="140.10" cy="168.4" r="1.05" fill="#000"/>
<circle cx="146.40" cy="168.4" r="1.05" fill="#000"/>
<circle cx="152.70" cy="168.4" r="1.05" fill="#000"/>
<circle cx="159.00" cy="168.4" r="1.05" fill="#000"/>
<circle cx="165.30" cy="168.4" r="1.05" fill="#000"/>
<circle cx="171.60" cy="168.4" r="1.05" fill="#000"/>
<circle cx="177.90" cy="168.4" r="1.05" fill="#000"/>
<circle cx="184.20" cy="168.4" r="1.05" fill="#000"/>
<circle cx="190.50" cy="168.4" r="1.05" fill="#000"/>
<circle cx="196.80" cy="168.4" r="1.05" fill="#000"/>
<circle cx="203.10" cy="168.4" r="1.05" fill="#000"/>
<circle cx="209.40" cy="168.4" r="1.05" fill="#000"/>
<circle cx="215.70" cy="168.4" r="1.05" fill="#000"/>
<circle cx="222.00" cy="168.4" r="1.05" fill="#000"/>
<circle cx="228.30" cy="168.4" r="1.05" fill="#000"/>
<circle cx="270.80" cy="185.1" r="1.05" fill="#000"/>
<circle cx="277.06" cy="185.1" r="1.05" fill="#000"/>
<circle cx="283.32" cy="185.1" r="1.05" fill="#000"/>
<circle cx="289.58" cy="185.1" r="1.05" fill="#000"/>
<circle cx="295.84" cy="185.1" r="1.05" fill="#000"/>
<circle cx="302.10" cy="185.1" r="1.05" fill="#000"/>
<circle cx="308.36" cy="185.1" r="1.05" fill="#000"/>
<circle cx="314.62" cy="185.1" r="1.05" fill="#000"/>
<circle cx="320.88" cy="185.1" r="1.05" fill="#000"/>
<circle cx="327.14" cy="185.1" r="1.05" fill="#000"/>
<circle cx="333.40" cy="185.1" r="1.05" fill="#000"/>
<circle cx="339.66" cy="185.1" r="1.05" fill="#000"/>
<circle cx="345.92" cy="185.1" r="1.05" fill="#000"/>
<circle cx="352.18" cy="185.1" r="1.05" fill="#000"/>
<circle cx="358.44" cy="185.1" r="1.05" fill="#000"/>
<circle cx="364.70" cy="185.1" r="1.05" fill="#000"/>
<circle cx="414.20" cy="221.3" r="1.05" fill="#000"/>
<circle cx="420.51" cy="221.3" r="1.05" fill="#000"/>
<circle cx="426.81" cy="221.3" r="1.05" fill="#000"/>
<circle cx="433.12" cy="221.3" r="1.05" fill="#000"/>
<circle cx="439.43" cy="221.3" r="1.05" fill="#000"/>
<circle cx="445.74" cy="221.3" r="1.05" fill="#000"/>
<circle cx="452.04" cy="221.3" r="1.05" fill="#000"/>
<circle cx="458.35" cy="221.3" r="1.05" fill="#000"/>
<circle cx="464.66" cy="221.3" r="1.05" fill="#000"/>
<circle cx="470.96" cy="221.3" r="1.05" fill="#000"/>
<circle cx="477.27" cy="221.3" r="1.05" fill="#000"/>
<circle cx="483.58" cy="221.3" r="1.05" fill="#000"/>
<circle cx="489.89" cy="221.3" r="1.05" fill="#000"/>
<circle cx="496.19" cy="221.3" r="1.05" fill="#000"/>
<circle cx="502.50" cy="221.3" r="1.05" fill="#000"/>
<text transform="translate(152.38,93.60) scale(1.0317,1)" style="font-size:16.81px;font-style:italic;">P</text>
<text transform="translate(182.97,93.60) scale(1.0563,1)" style="font-size:16.57px;">0.9</text>
<line x1="167.2" y1="87.30" x2="178.3" y2="87.30" stroke="#111" stroke-width="1.3"/>
<line x1="167.2" y1="90.20" x2="178.3" y2="90.20" stroke="#111" stroke-width="1.3"/>
<text transform="translate(297.68,93.90) scale(1.0317,1)" style="font-size:16.81px;font-style:italic;">P</text>
<text transform="translate(328.30,93.90) scale(1.0104,1)" style="font-size:16.57px;">0.7</text>
<line x1="312.5" y1="87.60" x2="323.6" y2="87.60" stroke="#111" stroke-width="1.3"/>
<line x1="312.5" y1="90.50" x2="323.6" y2="90.50" stroke="#111" stroke-width="1.3"/>
<text transform="translate(436.78,73.60) scale(1.0498,1)" style="font-size:16.52px;font-style:italic;">P</text>
<text transform="translate(467.41,73.60) scale(1.0064,1)" style="font-size:16.29px;">0.8</text>
<line x1="451.6" y1="67.30" x2="462.7" y2="67.30" stroke="#111" stroke-width="1.3"/>
<line x1="451.6" y1="70.20" x2="462.7" y2="70.20" stroke="#111" stroke-width="1.3"/>
<path d="M153.9,107.3 V100.2 H204.4 V107.3" fill="none" stroke="#111" stroke-width="1.9"/>
<path d="M299.2,107.3 V99.8 H350.2 V107.3" fill="none" stroke="#111" stroke-width="1.9"/>
<path d="M438.6,87.6 V81.0 H488.2 V87.6" fill="none" stroke="#111" stroke-width="1.9"/>
<line x1="124.95" y1="397.42" x2="124.95" y2="616.45" stroke="#000" stroke-width="2.2"/>
<line x1="123.85" y1="615.35" x2="520" y2="615.35" stroke="#000" stroke-width="2.3"/>
<line x1="118.4" y1="615.35" x2="125" y2="615.35" stroke="#000" stroke-width="1.8"/>
<line x1="121.8" y1="606.26" x2="125" y2="606.26" stroke="#000" stroke-width="1.6"/>
<line x1="121.8" y1="600.95" x2="125" y2="600.95" stroke="#000" stroke-width="1.6"/>
<line x1="121.8" y1="597.17" x2="125" y2="597.17" stroke="#000" stroke-width="1.6"/>
<line x1="121.8" y1="594.25" x2="125" y2="594.25" stroke="#000" stroke-width="1.6"/>
<line x1="121.8" y1="591.86" x2="125" y2="591.86" stroke="#000" stroke-width="1.6"/>
<line x1="121.8" y1="589.84" x2="125" y2="589.84" stroke="#000" stroke-width="1.6"/>
<line x1="121.8" y1="588.09" x2="125" y2="588.09" stroke="#000" stroke-width="1.6"/>
<line x1="121.8" y1="586.54" x2="125" y2="586.54" stroke="#000" stroke-width="1.6"/>
<text transform="translate(0,620.35) scale(1.18,1.13)" x="73.37 81.54" style="font-size:14.86px">0.</text><path d="M106.80,608.90 V620.20" stroke="#111" stroke-width="1.75" fill="none"/><path d="M103.30,611.20 L106.60,609.30" stroke="#111" stroke-width="1.5" fill="none" stroke-linecap="round"/>
<line x1="118.4" y1="585.16" x2="125" y2="585.16" stroke="#000" stroke-width="1.8"/>
<line x1="121.8" y1="576.07" x2="125" y2="576.07" stroke="#000" stroke-width="1.6"/>
<line x1="121.8" y1="570.76" x2="125" y2="570.76" stroke="#000" stroke-width="1.6"/>
<line x1="121.8" y1="566.98" x2="125" y2="566.98" stroke="#000" stroke-width="1.6"/>
<line x1="121.8" y1="564.06" x2="125" y2="564.06" stroke="#000" stroke-width="1.6"/>
<line x1="121.8" y1="561.67" x2="125" y2="561.67" stroke="#000" stroke-width="1.6"/>
<line x1="121.8" y1="559.65" x2="125" y2="559.65" stroke="#000" stroke-width="1.6"/>
<line x1="121.8" y1="557.90" x2="125" y2="557.90" stroke="#000" stroke-width="1.6"/>
<line x1="121.8" y1="556.35" x2="125" y2="556.35" stroke="#000" stroke-width="1.6"/>
<path d="M106.80,578.71 V590.01" stroke="#111" stroke-width="1.75" fill="none"/><path d="M103.30,581.01 L106.60,579.11" stroke="#111" stroke-width="1.5" fill="none" stroke-linecap="round"/>
<line x1="118.4" y1="554.97" x2="125" y2="554.97" stroke="#000" stroke-width="1.8"/>
<line x1="121.8" y1="545.88" x2="125" y2="545.88" stroke="#000" stroke-width="1.6"/>
<line x1="121.8" y1="540.57" x2="125" y2="540.57" stroke="#000" stroke-width="1.6"/>
<line x1="121.8" y1="536.79" x2="125" y2="536.79" stroke="#000" stroke-width="1.6"/>
<line x1="121.8" y1="533.87" x2="125" y2="533.87" stroke="#000" stroke-width="1.6"/>
<line x1="121.8" y1="531.48" x2="125" y2="531.48" stroke="#000" stroke-width="1.6"/>
<line x1="121.8" y1="529.46" x2="125" y2="529.46" stroke="#000" stroke-width="1.6"/>
<line x1="121.8" y1="527.71" x2="125" y2="527.71" stroke="#000" stroke-width="1.6"/>
<line x1="121.8" y1="526.16" x2="125" y2="526.16" stroke="#000" stroke-width="1.6"/>
<text transform="translate(0,559.97) scale(1.18,1.13)" x="85.91" style="font-size:14.86px">0</text><path d="M96.30,548.52 V559.82" stroke="#111" stroke-width="1.75" fill="none"/><path d="M92.80,550.82 L96.10,548.92" stroke="#111" stroke-width="1.5" fill="none" stroke-linecap="round"/>
<line x1="118.4" y1="524.78" x2="125" y2="524.78" stroke="#000" stroke-width="1.8"/>
<line x1="121.8" y1="515.69" x2="125" y2="515.69" stroke="#000" stroke-width="1.6"/>
<line x1="121.8" y1="510.38" x2="125" y2="510.38" stroke="#000" stroke-width="1.6"/>
<line x1="121.8" y1="506.60" x2="125" y2="506.60" stroke="#000" stroke-width="1.6"/>
<line x1="121.8" y1="503.68" x2="125" y2="503.68" stroke="#000" stroke-width="1.6"/>
<line x1="121.8" y1="501.29" x2="125" y2="501.29" stroke="#000" stroke-width="1.6"/>
<line x1="121.8" y1="499.27" x2="125" y2="499.27" stroke="#000" stroke-width="1.6"/>
<line x1="121.8" y1="497.52" x2="125" y2="497.52" stroke="#000" stroke-width="1.6"/>
<line x1="121.8" y1="495.97" x2="125" y2="495.97" stroke="#000" stroke-width="1.6"/>
<text transform="translate(0,529.78) scale(1.18,1.13)" x="77.01 85.91" style="font-size:14.86px">00</text><path d="M85.80,518.33 V529.63" stroke="#111" stroke-width="1.75" fill="none"/><path d="M82.30,520.63 L85.60,518.73" stroke="#111" stroke-width="1.5" fill="none" stroke-linecap="round"/>
<line x1="118.4" y1="494.59" x2="125" y2="494.59" stroke="#000" stroke-width="1.8"/>
<line x1="121.8" y1="485.50" x2="125" y2="485.50" stroke="#000" stroke-width="1.6"/>
<line x1="121.8" y1="480.19" x2="125" y2="480.19" stroke="#000" stroke-width="1.6"/>
<line x1="121.8" y1="476.41" x2="125" y2="476.41" stroke="#000" stroke-width="1.6"/>
<line x1="121.8" y1="473.49" x2="125" y2="473.49" stroke="#000" stroke-width="1.6"/>
<line x1="121.8" y1="471.10" x2="125" y2="471.10" stroke="#000" stroke-width="1.6"/>
<line x1="121.8" y1="469.08" x2="125" y2="469.08" stroke="#000" stroke-width="1.6"/>
<line x1="121.8" y1="467.33" x2="125" y2="467.33" stroke="#000" stroke-width="1.6"/>
<line x1="121.8" y1="465.78" x2="125" y2="465.78" stroke="#000" stroke-width="1.6"/>
<text transform="translate(0,499.59) scale(1.18,1.13)" x="63.98 68.11 77.01 85.91" style="font-size:14.86px">,000</text><path d="M71.70,488.14 V499.44" stroke="#111" stroke-width="1.75" fill="none"/><path d="M68.20,490.44 L71.50,488.54" stroke="#111" stroke-width="1.5" fill="none" stroke-linecap="round"/>
<line x1="118.4" y1="464.40" x2="125" y2="464.40" stroke="#000" stroke-width="1.8"/>
<line x1="121.8" y1="455.31" x2="125" y2="455.31" stroke="#000" stroke-width="1.6"/>
<line x1="121.8" y1="450.00" x2="125" y2="450.00" stroke="#000" stroke-width="1.6"/>
<line x1="121.8" y1="446.22" x2="125" y2="446.22" stroke="#000" stroke-width="1.6"/>
<line x1="121.8" y1="443.30" x2="125" y2="443.30" stroke="#000" stroke-width="1.6"/>
<line x1="121.8" y1="440.91" x2="125" y2="440.91" stroke="#000" stroke-width="1.6"/>
<line x1="121.8" y1="438.89" x2="125" y2="438.89" stroke="#000" stroke-width="1.6"/>
<line x1="121.8" y1="437.14" x2="125" y2="437.14" stroke="#000" stroke-width="1.6"/>
<line x1="121.8" y1="435.59" x2="125" y2="435.59" stroke="#000" stroke-width="1.6"/>
<text transform="translate(0,469.40) scale(1.18,1.13)" x="56.16 63.98 68.11 77.01 85.91" style="font-size:14.86px">0,000</text><path d="M60.80,457.95 V469.25" stroke="#111" stroke-width="1.75" fill="none"/><path d="M57.30,460.25 L60.60,458.35" stroke="#111" stroke-width="1.5" fill="none" stroke-linecap="round"/>
<line x1="118.4" y1="434.21" x2="125" y2="434.21" stroke="#000" stroke-width="1.8"/>
<line x1="121.8" y1="425.12" x2="125" y2="425.12" stroke="#000" stroke-width="1.6"/>
<line x1="121.8" y1="419.81" x2="125" y2="419.81" stroke="#000" stroke-width="1.6"/>
<line x1="121.8" y1="416.03" x2="125" y2="416.03" stroke="#000" stroke-width="1.6"/>
<line x1="121.8" y1="413.11" x2="125" y2="413.11" stroke="#000" stroke-width="1.6"/>
<line x1="121.8" y1="410.72" x2="125" y2="410.72" stroke="#000" stroke-width="1.6"/>
<line x1="121.8" y1="408.70" x2="125" y2="408.70" stroke="#000" stroke-width="1.6"/>
<line x1="121.8" y1="406.95" x2="125" y2="406.95" stroke="#000" stroke-width="1.6"/>
<line x1="121.8" y1="405.40" x2="125" y2="405.40" stroke="#000" stroke-width="1.6"/>
<text transform="translate(0,439.21) scale(1.18,1.13)" x="46.93 56.16 63.98 68.11 77.01 85.91" style="font-size:14.86px">00,000</text><path d="M49.50,427.76 V439.06" stroke="#111" stroke-width="1.75" fill="none"/><path d="M46.00,430.06 L49.30,428.16" stroke="#111" stroke-width="1.5" fill="none" stroke-linecap="round"/>
<line x1="118.4" y1="404.02" x2="125" y2="404.02" stroke="#000" stroke-width="1.8"/>
<text transform="translate(0,409.02) scale(1.18,1.13)" x="33.13 37.35 46.93 56.16 63.98 68.11 77.01 85.91" style="font-size:14.86px">,000,000</text><path d="M35.20,397.57 V408.87" stroke="#111" stroke-width="1.75" fill="none"/><path d="M31.70,399.87 L35.00,397.97" stroke="#111" stroke-width="1.5" fill="none" stroke-linecap="round"/>
<text transform="translate(18.1,527.31) rotate(-90) scale(0.7445,1)" style="font-size:20.3px;stroke-width:0.75px">pg/mL</text>
<text transform="translate(3.91,375.40) scale(0.9683,1)" style="font-size:25.65px;font-weight:bold;stroke-width:0.8px;">B</text>
<text transform="translate(159.68,636.30) scale(1.1765,1)" style="font-size:15.29px;stroke-width:0;">cGFAP</text>
<text transform="translate(311.19,637.50) scale(1.1427,1)" style="font-size:15.48px;stroke-width:0;">cNfL</text>
<text transform="translate(454.66,637.50) scale(1.0927,1)" style="font-size:15.75px;stroke-width:0;">sNfL</text>
<text transform="translate(127.16,441.60) scale(1.1474,1)" style="font-size:15.80px;font-style:italic;">P</text>
<text transform="translate(158.08,441.60) scale(1.1067,1)" style="font-size:15.57px;">0.03</text>
<line x1="142.2" y1="435.30" x2="153.8" y2="435.30" stroke="#111" stroke-width="1.3"/>
<line x1="142.2" y1="438.20" x2="153.8" y2="438.20" stroke="#111" stroke-width="1.3"/>
<text transform="translate(190.39,423.60) scale(1.1613,1)" style="font-size:14.71px;">0.004</text>
<text transform="translate(282.99,445.60) scale(1.0911,1)" style="font-size:15.71px;">0.3</text>
<text transform="translate(325.80,440.20) scale(1.1329,1)" style="font-size:14.86px;">0.0007</text>
<text transform="translate(419.10,403.10) scale(1.0803,1)" style="font-size:15.43px;">0.2</text>
<text transform="translate(475.36,417.30) scale(0.9215,1)" style="font-size:15.86px;">0.1</text>
<path d="M144.9,453.3 V446.8 H168.7 V453.3" fill="none" stroke="#111" stroke-width="1.9"/>
<path d="M199.8,436.9 V430.3 H223.4 V436.9" fill="none" stroke="#111" stroke-width="1.9"/>
<path d="M282.7,456.5 V450.2 H306.6 V456.5" fill="none" stroke="#111" stroke-width="1.9"/>
<path d="M337.3,452.3 V446.2 H361.3 V452.3" fill="none" stroke="#111" stroke-width="1.9"/>
<path d="M418.5,414.2 V407.9 H442.7 V414.2" fill="none" stroke="#111" stroke-width="1.9"/>
<path d="M473.8,428.5 V421.7 H497.7 V428.5" fill="none" stroke="#111" stroke-width="1.9"/>
<line x1="143.20" y1="465.00" x2="170.60" y2="461.90" stroke="#1c1c1c" stroke-width="1.05"/>
<line x1="143.20" y1="467.00" x2="170.60" y2="472.30" stroke="#1c1c1c" stroke-width="1.05"/>
<line x1="143.20" y1="469.00" x2="176.80" y2="473.30" stroke="#1c1c1c" stroke-width="1.05"/>
<line x1="143.20" y1="471.00" x2="164.30" y2="476.60" stroke="#1c1c1c" stroke-width="1.05"/>
<line x1="143.20" y1="473.00" x2="170.60" y2="481.00" stroke="#1c1c1c" stroke-width="1.05"/>
<line x1="143.20" y1="475.00" x2="176.80" y2="481.00" stroke="#1c1c1c" stroke-width="1.05"/>
<line x1="143.20" y1="477.00" x2="164.30" y2="483.80" stroke="#1c1c1c" stroke-width="1.05"/>
<line x1="143.20" y1="479.00" x2="170.60" y2="487.20" stroke="#1c1c1c" stroke-width="1.05"/>
<line x1="143.20" y1="481.00" x2="164.30" y2="491.50" stroke="#1c1c1c" stroke-width="1.05"/>
<line x1="143.20" y1="484.00" x2="176.80" y2="496.30" stroke="#1c1c1c" stroke-width="1.05"/>
<line x1="143.20" y1="487.00" x2="170.60" y2="499.70" stroke="#1c1c1c" stroke-width="1.05"/>
<line x1="143.20" y1="490.00" x2="176.80" y2="502.60" stroke="#1c1c1c" stroke-width="1.05"/>
<line x1="143.20" y1="493.00" x2="170.60" y2="506.80" stroke="#1c1c1c" stroke-width="1.05"/>
<line x1="143.20" y1="496.00" x2="170.60" y2="499.60" stroke="#1c1c1c" stroke-width="1.05"/>
<line x1="143.20" y1="499.50" x2="170.60" y2="540.00" stroke="#1c1c1c" stroke-width="1.05"/>
<line x1="143.20" y1="520.30" x2="170.60" y2="506.80" stroke="#1c1c1c" stroke-width="1.05"/>
<line x1="143.20" y1="483.00" x2="176.80" y2="503.00" stroke="#1c1c1c" stroke-width="1.05"/>
<line x1="198.20" y1="461.50" x2="220.10" y2="466.00" stroke="#1c1c1c" stroke-width="1.05"/>
<line x1="198.20" y1="463.50" x2="225.70" y2="457.70" stroke="#1c1c1c" stroke-width="1.05"/>
<line x1="198.20" y1="465.50" x2="223.50" y2="463.40" stroke="#1c1c1c" stroke-width="1.05"/>
<line x1="198.20" y1="467.50" x2="231.30" y2="463.40" stroke="#1c1c1c" stroke-width="1.05"/>
<line x1="198.20" y1="469.50" x2="224.80" y2="450.80" stroke="#1c1c1c" stroke-width="1.05"/>
<line x1="198.20" y1="471.50" x2="233.10" y2="466.00" stroke="#1c1c1c" stroke-width="1.05"/>
<line x1="198.20" y1="473.50" x2="227.00" y2="444.80" stroke="#1c1c1c" stroke-width="1.05"/>
<line x1="198.20" y1="475.50" x2="221.50" y2="470.00" stroke="#1c1c1c" stroke-width="1.05"/>
<line x1="198.20" y1="477.50" x2="226.50" y2="469.00" stroke="#1c1c1c" stroke-width="1.05"/>
<line x1="198.20" y1="479.50" x2="220.10" y2="474.60" stroke="#1c1c1c" stroke-width="1.05"/>
<line x1="198.20" y1="481.50" x2="231.30" y2="475.50" stroke="#1c1c1c" stroke-width="1.05"/>
<line x1="198.20" y1="483.50" x2="226.00" y2="476.00" stroke="#1c1c1c" stroke-width="1.05"/>
<line x1="198.20" y1="485.00" x2="227.90" y2="480.70" stroke="#1c1c1c" stroke-width="1.05"/>
<line x1="198.20" y1="486.00" x2="231.30" y2="480.70" stroke="#1c1c1c" stroke-width="1.05"/>
<line x1="198.20" y1="472.50" x2="224.40" y2="483.30" stroke="#1c1c1c" stroke-width="1.05"/>
<line x1="198.20" y1="478.50" x2="222.00" y2="479.00" stroke="#1c1c1c" stroke-width="1.05"/>
<line x1="198.20" y1="484.50" x2="229.00" y2="472.00" stroke="#1c1c1c" stroke-width="1.05"/>
<line x1="198.20" y1="494.00" x2="222.00" y2="478.00" stroke="#1c1c1c" stroke-width="1.05"/>
<line x1="198.20" y1="496.00" x2="225.30" y2="487.10" stroke="#1c1c1c" stroke-width="1.05"/>
<line x1="198.20" y1="498.00" x2="223.70" y2="486.80" stroke="#1c1c1c" stroke-width="1.05"/>
<line x1="198.20" y1="500.00" x2="225.60" y2="493.00" stroke="#1c1c1c" stroke-width="1.05"/>
<line x1="198.20" y1="502.00" x2="227.50" y2="486.80" stroke="#1c1c1c" stroke-width="1.05"/>
<line x1="198.20" y1="504.00" x2="225.60" y2="503.20" stroke="#1c1c1c" stroke-width="1.05"/>
<line x1="198.20" y1="506.00" x2="225.60" y2="509.40" stroke="#1c1c1c" stroke-width="1.05"/>
<line x1="198.20" y1="506.00" x2="227.50" y2="540.10" stroke="#1c1c1c" stroke-width="1.05"/>
<line x1="198.20" y1="510.40" x2="225.60" y2="532.90" stroke="#1c1c1c" stroke-width="1.05"/>
<line x1="198.20" y1="519.80" x2="224.10" y2="540.10" stroke="#1c1c1c" stroke-width="1.05"/>
<line x1="280.40" y1="476.30" x2="301.30" y2="477.70" stroke="#1c1c1c" stroke-width="1.05"/>
<line x1="280.40" y1="479.10" x2="305.60" y2="481.50" stroke="#1c1c1c" stroke-width="1.05"/>
<line x1="280.40" y1="481.50" x2="309.90" y2="482.00" stroke="#1c1c1c" stroke-width="1.05"/>
<line x1="280.40" y1="487.30" x2="305.60" y2="491.60" stroke="#1c1c1c" stroke-width="1.05"/>
<line x1="280.40" y1="493.60" x2="308.00" y2="467.40" stroke="#1c1c1c" stroke-width="1.05"/>
<line x1="280.40" y1="498.80" x2="309.90" y2="491.20" stroke="#1c1c1c" stroke-width="1.05"/>
<line x1="280.40" y1="500.80" x2="309.90" y2="497.40" stroke="#1c1c1c" stroke-width="1.05"/>
<line x1="280.40" y1="481.50" x2="301.30" y2="500.80" stroke="#1c1c1c" stroke-width="1.05"/>
<line x1="280.40" y1="487.30" x2="305.60" y2="501.30" stroke="#1c1c1c" stroke-width="1.05"/>
<line x1="280.40" y1="508.50" x2="309.90" y2="506.50" stroke="#1c1c1c" stroke-width="1.05"/>
<line x1="280.40" y1="498.80" x2="314.20" y2="505.60" stroke="#1c1c1c" stroke-width="1.05"/>
<line x1="280.40" y1="508.50" x2="305.60" y2="510.40" stroke="#1c1c1c" stroke-width="1.05"/>
<line x1="280.40" y1="515.20" x2="309.90" y2="512.30" stroke="#1c1c1c" stroke-width="1.05"/>
<line x1="280.40" y1="585.20" x2="308.00" y2="585.20" stroke="#1c1c1c" stroke-width="1.05"/>
<line x1="335.40" y1="469.50" x2="362.90" y2="465.60" stroke="#1c1c1c" stroke-width="1.05"/>
<line x1="335.40" y1="472.00" x2="362.90" y2="465.60" stroke="#1c1c1c" stroke-width="1.05"/>
<line x1="335.40" y1="474.50" x2="362.90" y2="474.70" stroke="#1c1c1c" stroke-width="1.05"/>
<line x1="335.40" y1="477.50" x2="361.60" y2="480.30" stroke="#1c1c1c" stroke-width="1.05"/>
<line x1="335.40" y1="476.00" x2="364.60" y2="482.50" stroke="#1c1c1c" stroke-width="1.05"/>
<line x1="335.40" y1="488.00" x2="359.80" y2="486.00" stroke="#1c1c1c" stroke-width="1.05"/>
<line x1="335.40" y1="490.50" x2="366.30" y2="488.50" stroke="#1c1c1c" stroke-width="1.05"/>
<line x1="335.40" y1="493.00" x2="364.60" y2="490.90" stroke="#1c1c1c" stroke-width="1.05"/>
<line x1="335.40" y1="495.50" x2="362.90" y2="495.20" stroke="#1c1c1c" stroke-width="1.05"/>
<line x1="335.40" y1="498.00" x2="368.90" y2="500.40" stroke="#1c1c1c" stroke-width="1.05"/>
<line x1="335.40" y1="500.50" x2="356.80" y2="500.40" stroke="#1c1c1c" stroke-width="1.05"/>
<line x1="335.40" y1="503.00" x2="359.40" y2="506.40" stroke="#1c1c1c" stroke-width="1.05"/>
<line x1="335.40" y1="505.50" x2="366.30" y2="509.00" stroke="#1c1c1c" stroke-width="1.05"/>
<line x1="335.40" y1="508.00" x2="359.40" y2="513.40" stroke="#1c1c1c" stroke-width="1.05"/>
<line x1="335.40" y1="510.50" x2="366.30" y2="516.80" stroke="#1c1c1c" stroke-width="1.05"/>
<line x1="335.40" y1="512.50" x2="362.90" y2="511.60" stroke="#1c1c1c" stroke-width="1.05"/>
<line x1="335.40" y1="511.00" x2="361.00" y2="498.00" stroke="#1c1c1c" stroke-width="1.05"/>
<line x1="335.40" y1="489.00" x2="368.90" y2="498.00" stroke="#1c1c1c" stroke-width="1.05"/>
<line x1="335.40" y1="492.00" x2="362.00" y2="503.00" stroke="#1c1c1c" stroke-width="1.05"/>
<line x1="335.40" y1="520.50" x2="360.00" y2="491.00" stroke="#1c1c1c" stroke-width="1.05"/>
<line x1="335.40" y1="525.50" x2="363.00" y2="496.00" stroke="#1c1c1c" stroke-width="1.05"/>
<line x1="335.40" y1="497.00" x2="357.00" y2="492.00" stroke="#1c1c1c" stroke-width="1.05"/>
<line x1="335.40" y1="501.00" x2="358.50" y2="497.00" stroke="#1c1c1c" stroke-width="1.05"/>
<line x1="335.40" y1="499.00" x2="362.50" y2="499.00" stroke="#1c1c1c" stroke-width="1.05"/>
<line x1="335.40" y1="504.00" x2="365.00" y2="503.50" stroke="#1c1c1c" stroke-width="1.05"/>
<line x1="335.40" y1="506.50" x2="357.50" y2="505.50" stroke="#1c1c1c" stroke-width="1.05"/>
<line x1="335.40" y1="509.00" x2="361.50" y2="507.50" stroke="#1c1c1c" stroke-width="1.05"/>
<line x1="335.40" y1="494.00" x2="364.00" y2="506.00" stroke="#1c1c1c" stroke-width="1.05"/>
<line x1="335.40" y1="496.00" x2="367.50" y2="493.50" stroke="#1c1c1c" stroke-width="1.05"/>
<line x1="335.40" y1="542.20" x2="365.70" y2="517.60" stroke="#1c1c1c" stroke-width="1.05"/>
<line x1="335.40" y1="585.20" x2="362.60" y2="534.60" stroke="#1c1c1c" stroke-width="1.05"/>
<line x1="335.40" y1="564.00" x2="362.60" y2="564.00" stroke="#1c1c1c" stroke-width="1.05"/>
<line x1="335.40" y1="585.20" x2="361.70" y2="585.20" stroke="#1c1c1c" stroke-width="1.05"/>
<line x1="335.40" y1="585.20" x2="365.00" y2="585.20" stroke="#1c1c1c" stroke-width="1.05"/>
<line x1="417.70" y1="425.20" x2="445.10" y2="456.30" stroke="#1c1c1c" stroke-width="1.05"/>
<line x1="417.70" y1="456.90" x2="445.10" y2="456.30" stroke="#1c1c1c" stroke-width="1.05"/>
<line x1="417.70" y1="465.40" x2="446.00" y2="461.50" stroke="#1c1c1c" stroke-width="1.05"/>
<line x1="417.70" y1="465.40" x2="445.60" y2="476.00" stroke="#1c1c1c" stroke-width="1.05"/>
<line x1="417.70" y1="487.00" x2="445.10" y2="468.80" stroke="#1c1c1c" stroke-width="1.05"/>
<line x1="417.70" y1="474.00" x2="445.60" y2="476.00" stroke="#1c1c1c" stroke-width="1.05"/>
<line x1="417.70" y1="476.20" x2="441.00" y2="480.50" stroke="#1c1c1c" stroke-width="1.05"/>
<line x1="417.70" y1="476.20" x2="445.60" y2="476.00" stroke="#1c1c1c" stroke-width="1.05"/>
<line x1="417.70" y1="478.40" x2="445.60" y2="476.00" stroke="#1c1c1c" stroke-width="1.05"/>
<line x1="417.70" y1="478.40" x2="445.60" y2="476.00" stroke="#1c1c1c" stroke-width="1.05"/>
<line x1="417.70" y1="480.60" x2="441.00" y2="480.50" stroke="#1c1c1c" stroke-width="1.05"/>
<line x1="417.70" y1="482.80" x2="441.00" y2="485.10" stroke="#1c1c1c" stroke-width="1.05"/>
<line x1="417.70" y1="485.00" x2="447.80" y2="487.40" stroke="#1c1c1c" stroke-width="1.05"/>
<line x1="417.70" y1="487.20" x2="452.30" y2="490.80" stroke="#1c1c1c" stroke-width="1.05"/>
<line x1="417.70" y1="489.40" x2="447.80" y2="492.00" stroke="#1c1c1c" stroke-width="1.05"/>
<line x1="417.70" y1="491.60" x2="441.00" y2="485.10" stroke="#1c1c1c" stroke-width="1.05"/>
<line x1="417.70" y1="493.80" x2="452.30" y2="490.80" stroke="#1c1c1c" stroke-width="1.05"/>
<line x1="417.70" y1="493.80" x2="441.00" y2="498.90" stroke="#1c1c1c" stroke-width="1.05"/>
<line x1="417.70" y1="496.00" x2="447.80" y2="492.00" stroke="#1c1c1c" stroke-width="1.05"/>
<line x1="417.70" y1="496.00" x2="453.30" y2="501.30" stroke="#1c1c1c" stroke-width="1.05"/>
<line x1="417.70" y1="498.20" x2="453.30" y2="501.30" stroke="#1c1c1c" stroke-width="1.05"/>
<line x1="417.70" y1="500.40" x2="444.50" y2="505.00" stroke="#1c1c1c" stroke-width="1.05"/>
<line x1="417.70" y1="502.60" x2="447.80" y2="510.40" stroke="#1c1c1c" stroke-width="1.05"/>
<line x1="417.70" y1="502.60" x2="441.00" y2="498.90" stroke="#1c1c1c" stroke-width="1.05"/>
<line x1="417.70" y1="504.80" x2="441.00" y2="503.50" stroke="#1c1c1c" stroke-width="1.05"/>
<line x1="417.70" y1="504.80" x2="441.00" y2="508.10" stroke="#1c1c1c" stroke-width="1.05"/>
<line x1="417.70" y1="507.00" x2="441.00" y2="517.30" stroke="#1c1c1c" stroke-width="1.05"/>
<line x1="417.70" y1="509.20" x2="447.80" y2="505.80" stroke="#1c1c1c" stroke-width="1.05"/>
<line x1="417.70" y1="511.40" x2="447.80" y2="519.60" stroke="#1c1c1c" stroke-width="1.05"/>
<line x1="417.70" y1="511.40" x2="450.40" y2="515.80" stroke="#1c1c1c" stroke-width="1.05"/>
<line x1="417.70" y1="513.60" x2="441.00" y2="503.50" stroke="#1c1c1c" stroke-width="1.05"/>
<line x1="417.70" y1="513.60" x2="441.00" y2="503.50" stroke="#1c1c1c" stroke-width="1.05"/>
<line x1="417.70" y1="515.80" x2="450.00" y2="512.00" stroke="#1c1c1c" stroke-width="1.05"/>
<line x1="417.70" y1="518.00" x2="441.00" y2="517.30" stroke="#1c1c1c" stroke-width="1.05"/>
<line x1="417.70" y1="520.20" x2="447.80" y2="515.00" stroke="#1c1c1c" stroke-width="1.05"/>
<line x1="417.70" y1="520.20" x2="447.80" y2="505.80" stroke="#1c1c1c" stroke-width="1.05"/>
<line x1="417.70" y1="522.40" x2="444.60" y2="527.70" stroke="#1c1c1c" stroke-width="1.05"/>
<line x1="417.70" y1="522.40" x2="447.80" y2="519.60" stroke="#1c1c1c" stroke-width="1.05"/>
<line x1="417.70" y1="524.60" x2="448.50" y2="524.80" stroke="#1c1c1c" stroke-width="1.05"/>
<line x1="417.70" y1="526.80" x2="444.60" y2="527.70" stroke="#1c1c1c" stroke-width="1.05"/>
<line x1="417.70" y1="529.00" x2="447.80" y2="519.60" stroke="#1c1c1c" stroke-width="1.05"/>
<line x1="417.70" y1="529.00" x2="448.50" y2="524.80" stroke="#1c1c1c" stroke-width="1.05"/>
<line x1="417.70" y1="531.20" x2="451.30" y2="522.50" stroke="#1c1c1c" stroke-width="1.05"/>
<line x1="417.70" y1="533.40" x2="447.80" y2="519.60" stroke="#1c1c1c" stroke-width="1.05"/>
<line x1="417.70" y1="535.60" x2="448.00" y2="539.20" stroke="#1c1c1c" stroke-width="1.05"/>
<line x1="417.70" y1="537.80" x2="448.00" y2="539.20" stroke="#1c1c1c" stroke-width="1.05"/>
<line x1="417.70" y1="540.00" x2="448.00" y2="539.20" stroke="#1c1c1c" stroke-width="1.05"/>
<line x1="417.70" y1="542.20" x2="445.10" y2="556.30" stroke="#1c1c1c" stroke-width="1.05"/>
<line x1="417.70" y1="542.20" x2="448.00" y2="539.20" stroke="#1c1c1c" stroke-width="1.05"/>
<line x1="417.70" y1="544.40" x2="448.00" y2="539.20" stroke="#1c1c1c" stroke-width="1.05"/>
<line x1="417.70" y1="544.40" x2="445.10" y2="556.30" stroke="#1c1c1c" stroke-width="1.05"/>
<line x1="417.70" y1="546.60" x2="448.00" y2="539.20" stroke="#1c1c1c" stroke-width="1.05"/>
<line x1="417.70" y1="546.60" x2="445.10" y2="548.80" stroke="#1c1c1c" stroke-width="1.05"/>
<line x1="417.70" y1="548.80" x2="445.10" y2="556.30" stroke="#1c1c1c" stroke-width="1.05"/>
<line x1="417.70" y1="548.80" x2="445.10" y2="556.30" stroke="#1c1c1c" stroke-width="1.05"/>
<line x1="417.70" y1="551.00" x2="445.10" y2="550.00" stroke="#1c1c1c" stroke-width="1.05"/>
<line x1="417.70" y1="553.20" x2="445.10" y2="556.30" stroke="#1c1c1c" stroke-width="1.05"/>
<line x1="417.70" y1="553.20" x2="448.00" y2="539.20" stroke="#1c1c1c" stroke-width="1.05"/>
<line x1="417.70" y1="555.40" x2="445.10" y2="556.30" stroke="#1c1c1c" stroke-width="1.05"/>
<line x1="417.70" y1="557.60" x2="445.10" y2="556.30" stroke="#1c1c1c" stroke-width="1.05"/>
<line x1="417.70" y1="557.60" x2="448.00" y2="539.20" stroke="#1c1c1c" stroke-width="1.05"/>
<line x1="417.70" y1="556.30" x2="443.20" y2="562.50" stroke="#1c1c1c" stroke-width="1.05"/>
<line x1="417.70" y1="563.00" x2="443.20" y2="562.50" stroke="#1c1c1c" stroke-width="1.05"/>
<line x1="417.70" y1="568.80" x2="443.20" y2="568.80" stroke="#1c1c1c" stroke-width="1.05"/>
<line x1="417.70" y1="575.50" x2="445.10" y2="556.30" stroke="#1c1c1c" stroke-width="1.05"/>
<line x1="417.70" y1="550.00" x2="445.10" y2="562.50" stroke="#1c1c1c" stroke-width="1.05"/>
<line x1="417.70" y1="545.00" x2="445.10" y2="546.90" stroke="#1c1c1c" stroke-width="1.05"/>
<line x1="417.70" y1="535.00" x2="445.10" y2="556.30" stroke="#1c1c1c" stroke-width="1.05"/>
<line x1="417.70" y1="525.00" x2="445.10" y2="548.80" stroke="#1c1c1c" stroke-width="1.05"/>
<line x1="417.70" y1="594.20" x2="444.30" y2="594.20" stroke="#1c1c1c" stroke-width="1.05"/>
<line x1="472.60" y1="440.30" x2="500.10" y2="456.60" stroke="#1c1c1c" stroke-width="1.05"/>
<line x1="472.60" y1="443.20" x2="499.10" y2="448.90" stroke="#1c1c1c" stroke-width="1.05"/>
<line x1="472.60" y1="446.50" x2="502.00" y2="451.80" stroke="#1c1c1c" stroke-width="1.05"/>
<line x1="472.60" y1="449.90" x2="499.10" y2="448.90" stroke="#1c1c1c" stroke-width="1.05"/>
<line x1="472.60" y1="457.60" x2="499.10" y2="464.30" stroke="#1c1c1c" stroke-width="1.05"/>
<line x1="472.60" y1="464.80" x2="501.50" y2="468.70" stroke="#1c1c1c" stroke-width="1.05"/>
<line x1="472.60" y1="472.00" x2="498.70" y2="474.60" stroke="#1c1c1c" stroke-width="1.05"/>
<line x1="472.60" y1="474.20" x2="500.60" y2="483.30" stroke="#1c1c1c" stroke-width="1.05"/>
<line x1="472.60" y1="479.40" x2="503.50" y2="476.50" stroke="#1c1c1c" stroke-width="1.05"/>
<line x1="472.60" y1="482.30" x2="503.50" y2="476.50" stroke="#1c1c1c" stroke-width="1.05"/>
<line x1="472.60" y1="484.45" x2="501.50" y2="489.00" stroke="#1c1c1c" stroke-width="1.05"/>
<line x1="472.60" y1="486.60" x2="501.50" y2="489.00" stroke="#1c1c1c" stroke-width="1.05"/>
<line x1="472.60" y1="486.60" x2="500.50" y2="492.00" stroke="#1c1c1c" stroke-width="1.05"/>
<line x1="472.60" y1="488.75" x2="501.50" y2="489.00" stroke="#1c1c1c" stroke-width="1.05"/>
<line x1="472.60" y1="490.90" x2="495.30" y2="500.00" stroke="#1c1c1c" stroke-width="1.05"/>
<line x1="472.60" y1="490.90" x2="505.40" y2="502.50" stroke="#1c1c1c" stroke-width="1.05"/>
<line x1="472.60" y1="493.05" x2="500.50" y2="492.00" stroke="#1c1c1c" stroke-width="1.05"/>
<line x1="472.60" y1="493.05" x2="502.00" y2="471.50" stroke="#1c1c1c" stroke-width="1.05"/>
<line x1="472.60" y1="495.20" x2="499.50" y2="486.00" stroke="#1c1c1c" stroke-width="1.05"/>
<line x1="472.60" y1="497.35" x2="499.50" y2="486.00" stroke="#1c1c1c" stroke-width="1.05"/>
<line x1="472.60" y1="499.50" x2="503.50" y2="498.70" stroke="#1c1c1c" stroke-width="1.05"/>
<line x1="472.60" y1="499.50" x2="495.30" y2="514.40" stroke="#1c1c1c" stroke-width="1.05"/>
<line x1="472.60" y1="501.65" x2="500.10" y2="494.80" stroke="#1c1c1c" stroke-width="1.05"/>
<line x1="472.60" y1="503.80" x2="500.30" y2="506.40" stroke="#1c1c1c" stroke-width="1.05"/>
<line x1="472.60" y1="503.80" x2="500.50" y2="492.00" stroke="#1c1c1c" stroke-width="1.05"/>
<line x1="472.60" y1="505.95" x2="495.30" y2="514.40" stroke="#1c1c1c" stroke-width="1.05"/>
<line x1="472.60" y1="505.95" x2="500.30" y2="516.00" stroke="#1c1c1c" stroke-width="1.05"/>
<line x1="472.60" y1="508.10" x2="505.00" y2="512.80" stroke="#1c1c1c" stroke-width="1.05"/>
<line x1="472.60" y1="508.10" x2="500.30" y2="511.20" stroke="#1c1c1c" stroke-width="1.05"/>
<line x1="472.60" y1="512.40" x2="500.30" y2="511.20" stroke="#1c1c1c" stroke-width="1.05"/>
<line x1="472.60" y1="512.40" x2="500.30" y2="516.00" stroke="#1c1c1c" stroke-width="1.05"/>
<line x1="472.60" y1="514.55" x2="500.30" y2="516.00" stroke="#1c1c1c" stroke-width="1.05"/>
<line x1="472.60" y1="514.55" x2="495.30" y2="519.20" stroke="#1c1c1c" stroke-width="1.05"/>
<line x1="472.60" y1="516.70" x2="500.60" y2="533.40" stroke="#1c1c1c" stroke-width="1.05"/>
<line x1="472.60" y1="518.85" x2="500.30" y2="520.80" stroke="#1c1c1c" stroke-width="1.05"/>
<line x1="472.60" y1="518.85" x2="495.30" y2="519.20" stroke="#1c1c1c" stroke-width="1.05"/>
<line x1="472.60" y1="521.00" x2="495.30" y2="528.80" stroke="#1c1c1c" stroke-width="1.05"/>
<line x1="472.60" y1="521.00" x2="503.50" y2="533.70" stroke="#1c1c1c" stroke-width="1.05"/>
<line x1="472.60" y1="523.15" x2="503.50" y2="533.70" stroke="#1c1c1c" stroke-width="1.05"/>
<line x1="472.60" y1="525.30" x2="500.30" y2="516.00" stroke="#1c1c1c" stroke-width="1.05"/>
<line x1="472.60" y1="525.30" x2="505.00" y2="527.20" stroke="#1c1c1c" stroke-width="1.05"/>
<line x1="472.60" y1="527.45" x2="500.60" y2="533.40" stroke="#1c1c1c" stroke-width="1.05"/>
<line x1="472.60" y1="527.45" x2="500.60" y2="533.40" stroke="#1c1c1c" stroke-width="1.05"/>
<line x1="472.60" y1="529.60" x2="500.30" y2="530.40" stroke="#1c1c1c" stroke-width="1.05"/>
<line x1="472.60" y1="529.60" x2="495.30" y2="524.00" stroke="#1c1c1c" stroke-width="1.05"/>
<line x1="472.60" y1="531.75" x2="503.50" y2="533.70" stroke="#1c1c1c" stroke-width="1.05"/>
<line x1="472.60" y1="531.75" x2="505.00" y2="527.20" stroke="#1c1c1c" stroke-width="1.05"/>
<line x1="472.60" y1="533.90" x2="500.60" y2="533.40" stroke="#1c1c1c" stroke-width="1.05"/>
<line x1="472.60" y1="536.05" x2="503.50" y2="533.70" stroke="#1c1c1c" stroke-width="1.05"/>
<line x1="472.60" y1="538.20" x2="503.50" y2="533.70" stroke="#1c1c1c" stroke-width="1.05"/>
<line x1="472.60" y1="538.20" x2="500.30" y2="525.60" stroke="#1c1c1c" stroke-width="1.05"/>
<line x1="472.60" y1="540.35" x2="503.50" y2="533.70" stroke="#1c1c1c" stroke-width="1.05"/>
<line x1="472.60" y1="542.50" x2="503.50" y2="533.70" stroke="#1c1c1c" stroke-width="1.05"/>
<line x1="472.60" y1="544.65" x2="503.50" y2="533.70" stroke="#1c1c1c" stroke-width="1.05"/>
<line x1="472.60" y1="544.65" x2="503.50" y2="533.70" stroke="#1c1c1c" stroke-width="1.05"/>
<line x1="472.60" y1="532.00" x2="500.10" y2="547.30" stroke="#1c1c1c" stroke-width="1.05"/>
<line x1="472.60" y1="540.00" x2="499.60" y2="562.70" stroke="#1c1c1c" stroke-width="1.05"/>
<line x1="472.60" y1="543.00" x2="501.50" y2="565.60" stroke="#1c1c1c" stroke-width="1.05"/>
<line x1="472.60" y1="536.00" x2="500.20" y2="568.60" stroke="#1c1c1c" stroke-width="1.05"/>
<line x1="488.00" y1="530.00" x2="472.60" y2="572.00" stroke="#1c1c1c" stroke-width="1.05"/>
<line x1="472.60" y1="563.20" x2="499.60" y2="562.70" stroke="#1c1c1c" stroke-width="1.05"/>
<line x1="472.60" y1="565.20" x2="500.70" y2="573.30" stroke="#1c1c1c" stroke-width="1.05"/>
<line x1="472.60" y1="570.70" x2="501.80" y2="570.70" stroke="#1c1c1c" stroke-width="1.05"/>
<line x1="472.60" y1="573.90" x2="500.70" y2="573.30" stroke="#1c1c1c" stroke-width="1.05"/>
<line x1="472.60" y1="580.20" x2="484.00" y2="536.00" stroke="#1c1c1c" stroke-width="1.05"/>
<line x1="472.60" y1="591.90" x2="500.20" y2="594.50" stroke="#1c1c1c" stroke-width="1.05"/>
<circle cx="143.20" cy="465.00" r="2.95" fill="#0a0a0a"/>
<circle cx="170.60" cy="461.90" r="2.95" fill="#0a0a0a"/>
<circle cx="143.20" cy="467.00" r="2.95" fill="#0a0a0a"/>
<circle cx="170.60" cy="472.30" r="2.95" fill="#0a0a0a"/>
<circle cx="143.20" cy="469.00" r="2.95" fill="#0a0a0a"/>
<circle cx="176.80" cy="473.30" r="2.95" fill="#0a0a0a"/>
<circle cx="143.20" cy="471.00" r="2.95" fill="#0a0a0a"/>
<circle cx="164.30" cy="476.60" r="2.95" fill="#0a0a0a"/>
<circle cx="143.20" cy="473.00" r="2.95" fill="#0a0a0a"/>
<circle cx="170.60" cy="481.00" r="2.95" fill="#0a0a0a"/>
<circle cx="143.20" cy="475.00" r="2.95" fill="#0a0a0a"/>
<circle cx="176.80" cy="481.00" r="2.95" fill="#0a0a0a"/>
<circle cx="143.20" cy="477.00" r="2.95" fill="#0a0a0a"/>
<circle cx="164.30" cy="483.80" r="2.95" fill="#0a0a0a"/>
<circle cx="143.20" cy="479.00" r="2.95" fill="#0a0a0a"/>
<circle cx="170.60" cy="487.20" r="2.95" fill="#0a0a0a"/>
<circle cx="143.20" cy="481.00" r="2.95" fill="#0a0a0a"/>
<circle cx="164.30" cy="491.50" r="2.95" fill="#0a0a0a"/>
<circle cx="143.20" cy="484.00" r="2.95" fill="#0a0a0a"/>
<circle cx="176.80" cy="496.30" r="2.95" fill="#0a0a0a"/>
<circle cx="143.20" cy="487.00" r="2.95" fill="#0a0a0a"/>
<circle cx="170.60" cy="499.70" r="2.95" fill="#0a0a0a"/>
<circle cx="143.20" cy="490.00" r="2.95" fill="#0a0a0a"/>
<circle cx="176.80" cy="502.60" r="2.95" fill="#0a0a0a"/>
<circle cx="143.20" cy="493.00" r="2.95" fill="#0a0a0a"/>
<circle cx="170.60" cy="506.80" r="2.95" fill="#0a0a0a"/>
<circle cx="143.20" cy="496.00" r="2.95" fill="#0a0a0a"/>
<circle cx="170.60" cy="499.60" r="2.95" fill="#0a0a0a"/>
<circle cx="143.20" cy="499.50" r="2.95" fill="#0a0a0a"/>
<circle cx="170.60" cy="540.00" r="2.95" fill="#0a0a0a"/>
<circle cx="143.20" cy="520.30" r="2.95" fill="#0a0a0a"/>
<circle cx="170.60" cy="506.80" r="2.95" fill="#0a0a0a"/>
<circle cx="143.20" cy="483.00" r="2.95" fill="#0a0a0a"/>
<circle cx="176.80" cy="503.00" r="2.95" fill="#0a0a0a"/>
<circle cx="280.40" cy="476.30" r="2.95" fill="#0a0a0a"/>
<circle cx="301.30" cy="477.70" r="2.95" fill="#0a0a0a"/>
<circle cx="280.40" cy="479.10" r="2.95" fill="#0a0a0a"/>
<circle cx="305.60" cy="481.50" r="2.95" fill="#0a0a0a"/>
<circle cx="280.40" cy="481.50" r="2.95" fill="#0a0a0a"/>
<circle cx="309.90" cy="482.00" r="2.95" fill="#0a0a0a"/>
<circle cx="280.40" cy="487.30" r="2.95" fill="#0a0a0a"/>
<circle cx="305.60" cy="491.60" r="2.95" fill="#0a0a0a"/>
<circle cx="280.40" cy="493.60" r="2.95" fill="#0a0a0a"/>
<circle cx="308.00" cy="467.40" r="2.95" fill="#0a0a0a"/>
<circle cx="280.40" cy="498.80" r="2.95" fill="#0a0a0a"/>
<circle cx="309.90" cy="491.20" r="2.95" fill="#0a0a0a"/>
<circle cx="280.40" cy="500.80" r="2.95" fill="#0a0a0a"/>
<circle cx="309.90" cy="497.40" r="2.95" fill="#0a0a0a"/>
<circle cx="280.40" cy="481.50" r="2.95" fill="#0a0a0a"/>
<circle cx="301.30" cy="500.80" r="2.95" fill="#0a0a0a"/>
<circle cx="280.40" cy="487.30" r="2.95" fill="#0a0a0a"/>
<circle cx="305.60" cy="501.30" r="2.95" fill="#0a0a0a"/>
<circle cx="280.40" cy="508.50" r="2.95" fill="#0a0a0a"/>
<circle cx="309.90" cy="506.50" r="2.95" fill="#0a0a0a"/>
<circle cx="280.40" cy="498.80" r="2.95" fill="#0a0a0a"/>
<circle cx="314.20" cy="505.60" r="2.95" fill="#0a0a0a"/>
<circle cx="280.40" cy="508.50" r="2.95" fill="#0a0a0a"/>
<circle cx="305.60" cy="510.40" r="2.95" fill="#0a0a0a"/>
<circle cx="280.40" cy="515.20" r="2.95" fill="#0a0a0a"/>
<circle cx="309.90" cy="512.30" r="2.95" fill="#0a0a0a"/>
<circle cx="280.40" cy="585.20" r="2.95" fill="#0a0a0a"/>
<circle cx="308.00" cy="585.20" r="2.95" fill="#0a0a0a"/>
<circle cx="417.70" cy="425.20" r="2.95" fill="#0a0a0a"/>
<circle cx="417.70" cy="456.90" r="2.95" fill="#0a0a0a"/>
<circle cx="417.70" cy="465.40" r="2.95" fill="#0a0a0a"/>
<circle cx="417.70" cy="474.00" r="2.95" fill="#0a0a0a"/>
<circle cx="417.70" cy="476.20" r="2.95" fill="#0a0a0a"/>
<circle cx="417.70" cy="478.40" r="2.95" fill="#0a0a0a"/>
<circle cx="417.70" cy="480.60" r="2.95" fill="#0a0a0a"/>
<circle cx="417.70" cy="482.80" r="2.95" fill="#0a0a0a"/>
<circle cx="417.70" cy="485.00" r="2.95" fill="#0a0a0a"/>
<circle cx="417.70" cy="487.20" r="2.95" fill="#0a0a0a"/>
<circle cx="417.70" cy="489.40" r="2.95" fill="#0a0a0a"/>
<circle cx="417.70" cy="491.60" r="2.95" fill="#0a0a0a"/>
<circle cx="417.70" cy="493.80" r="2.95" fill="#0a0a0a"/>
<circle cx="417.70" cy="496.00" r="2.95" fill="#0a0a0a"/>
<circle cx="417.70" cy="498.20" r="2.95" fill="#0a0a0a"/>
<circle cx="417.70" cy="500.40" r="2.95" fill="#0a0a0a"/>
<circle cx="417.70" cy="502.60" r="2.95" fill="#0a0a0a"/>
<circle cx="417.70" cy="504.80" r="2.95" fill="#0a0a0a"/>
<circle cx="417.70" cy="507.00" r="2.95" fill="#0a0a0a"/>
<circle cx="417.70" cy="509.20" r="2.95" fill="#0a0a0a"/>
<circle cx="417.70" cy="511.40" r="2.95" fill="#0a0a0a"/>
<circle cx="417.70" cy="513.60" r="2.95" fill="#0a0a0a"/>
<circle cx="417.70" cy="515.80" r="2.95" fill="#0a0a0a"/>
<circle cx="417.70" cy="518.00" r="2.95" fill="#0a0a0a"/>
<circle cx="417.70" cy="520.20" r="2.95" fill="#0a0a0a"/>
<circle cx="417.70" cy="522.40" r="2.95" fill="#0a0a0a"/>
<circle cx="417.70" cy="524.60" r="2.95" fill="#0a0a0a"/>
<circle cx="417.70" cy="526.80" r="2.95" fill="#0a0a0a"/>
<circle cx="417.70" cy="529.00" r="2.95" fill="#0a0a0a"/>
<circle cx="417.70" cy="531.20" r="2.95" fill="#0a0a0a"/>
<circle cx="417.70" cy="533.40" r="2.95" fill="#0a0a0a"/>
<circle cx="417.70" cy="535.60" r="2.95" fill="#0a0a0a"/>
<circle cx="417.70" cy="537.80" r="2.95" fill="#0a0a0a"/>
<circle cx="417.70" cy="540.00" r="2.95" fill="#0a0a0a"/>
<circle cx="417.70" cy="542.20" r="2.95" fill="#0a0a0a"/>
<circle cx="417.70" cy="544.40" r="2.95" fill="#0a0a0a"/>
<circle cx="417.70" cy="546.60" r="2.95" fill="#0a0a0a"/>
<circle cx="417.70" cy="548.80" r="2.95" fill="#0a0a0a"/>
<circle cx="417.70" cy="551.00" r="2.95" fill="#0a0a0a"/>
<circle cx="417.70" cy="553.20" r="2.95" fill="#0a0a0a"/>
<circle cx="417.70" cy="555.40" r="2.95" fill="#0a0a0a"/>
<circle cx="417.70" cy="557.60" r="2.95" fill="#0a0a0a"/>
<circle cx="417.70" cy="563.00" r="2.95" fill="#0a0a0a"/>
<circle cx="417.70" cy="568.80" r="2.95" fill="#0a0a0a"/>
<circle cx="417.70" cy="575.50" r="2.95" fill="#0a0a0a"/>
<circle cx="445.10" cy="456.30" r="2.95" fill="#0a0a0a"/>
<circle cx="446.00" cy="461.50" r="2.95" fill="#0a0a0a"/>
<circle cx="445.10" cy="468.80" r="2.95" fill="#0a0a0a"/>
<circle cx="445.60" cy="476.00" r="2.95" fill="#0a0a0a"/>
<circle cx="448.00" cy="477.90" r="2.95" fill="#0a0a0a"/>
<circle cx="441.70" cy="477.90" r="2.95" fill="#0a0a0a"/>
<circle cx="441.00" cy="480.50" r="2.95" fill="#0a0a0a"/>
<circle cx="447.80" cy="482.80" r="2.95" fill="#0a0a0a"/>
<circle cx="441.00" cy="485.10" r="2.95" fill="#0a0a0a"/>
<circle cx="447.80" cy="487.40" r="2.95" fill="#0a0a0a"/>
<circle cx="441.00" cy="489.70" r="2.95" fill="#0a0a0a"/>
<circle cx="447.80" cy="492.00" r="2.95" fill="#0a0a0a"/>
<circle cx="441.00" cy="494.30" r="2.95" fill="#0a0a0a"/>
<circle cx="447.80" cy="496.60" r="2.95" fill="#0a0a0a"/>
<circle cx="441.00" cy="498.90" r="2.95" fill="#0a0a0a"/>
<circle cx="447.80" cy="501.20" r="2.95" fill="#0a0a0a"/>
<circle cx="441.00" cy="503.50" r="2.95" fill="#0a0a0a"/>
<circle cx="447.80" cy="505.80" r="2.95" fill="#0a0a0a"/>
<circle cx="441.00" cy="508.10" r="2.95" fill="#0a0a0a"/>
<circle cx="447.80" cy="510.40" r="2.95" fill="#0a0a0a"/>
<circle cx="441.00" cy="512.70" r="2.95" fill="#0a0a0a"/>
<circle cx="447.80" cy="515.00" r="2.95" fill="#0a0a0a"/>
<circle cx="441.00" cy="517.30" r="2.95" fill="#0a0a0a"/>
<circle cx="447.80" cy="519.60" r="2.95" fill="#0a0a0a"/>
<circle cx="441.00" cy="521.90" r="2.95" fill="#0a0a0a"/>
<circle cx="452.30" cy="490.80" r="2.95" fill="#0a0a0a"/>
<circle cx="453.30" cy="501.30" r="2.95" fill="#0a0a0a"/>
<circle cx="448.50" cy="508.00" r="2.95" fill="#0a0a0a"/>
<circle cx="450.40" cy="515.80" r="2.95" fill="#0a0a0a"/>
<circle cx="451.30" cy="522.50" r="2.95" fill="#0a0a0a"/>
<circle cx="450.50" cy="484.00" r="2.95" fill="#0a0a0a"/>
<circle cx="451.00" cy="496.00" r="2.95" fill="#0a0a0a"/>
<circle cx="450.00" cy="512.00" r="2.95" fill="#0a0a0a"/>
<circle cx="444.50" cy="481.00" r="2.95" fill="#0a0a0a"/>
<circle cx="444.50" cy="505.00" r="2.95" fill="#0a0a0a"/>
<circle cx="444.50" cy="519.00" r="2.95" fill="#0a0a0a"/>
<circle cx="448.50" cy="524.80" r="2.95" fill="#0a0a0a"/>
<circle cx="444.60" cy="527.70" r="2.95" fill="#0a0a0a"/>
<circle cx="446.50" cy="533.50" r="2.95" fill="#0a0a0a"/>
<circle cx="448.00" cy="539.20" r="2.95" fill="#0a0a0a"/>
<circle cx="443.20" cy="539.20" r="2.95" fill="#0a0a0a"/>
<circle cx="445.10" cy="546.90" r="2.95" fill="#0a0a0a"/>
<circle cx="445.10" cy="548.80" r="2.95" fill="#0a0a0a"/>
<circle cx="445.10" cy="550.00" r="2.95" fill="#0a0a0a"/>
<circle cx="445.10" cy="556.30" r="2.95" fill="#0a0a0a"/>
<circle cx="443.20" cy="562.50" r="2.95" fill="#0a0a0a"/>
<circle cx="447.50" cy="562.50" r="2.95" fill="#0a0a0a"/>
<circle cx="443.20" cy="568.80" r="2.95" fill="#0a0a0a"/>
<circle cx="447.50" cy="568.80" r="2.95" fill="#0a0a0a"/>
<circle cx="417.70" cy="594.20" r="2.95" fill="#0a0a0a"/>
<circle cx="444.30" cy="594.20" r="2.95" fill="#0a0a0a"/>
<circle cx="447.00" cy="594.20" r="2.95" fill="#0a0a0a"/>
<circle cx="198.20" cy="461.50" r="2.58" fill="#c41016" stroke="#780a0e" stroke-width="0.75"/>
<circle cx="220.10" cy="466.00" r="2.58" fill="#c41016" stroke="#780a0e" stroke-width="0.75"/>
<circle cx="198.20" cy="463.50" r="2.58" fill="#c41016" stroke="#780a0e" stroke-width="0.75"/>
<circle cx="225.70" cy="457.70" r="2.58" fill="#c41016" stroke="#780a0e" stroke-width="0.75"/>
<circle cx="198.20" cy="465.50" r="2.58" fill="#c41016" stroke="#780a0e" stroke-width="0.75"/>
<circle cx="223.50" cy="463.40" r="2.58" fill="#c41016" stroke="#780a0e" stroke-width="0.75"/>
<circle cx="198.20" cy="467.50" r="2.58" fill="#c41016" stroke="#780a0e" stroke-width="0.75"/>
<circle cx="231.30" cy="463.40" r="2.58" fill="#c41016" stroke="#780a0e" stroke-width="0.75"/>
<circle cx="198.20" cy="469.50" r="2.58" fill="#c41016" stroke="#780a0e" stroke-width="0.75"/>
<circle cx="224.80" cy="450.80" r="2.58" fill="#c41016" stroke="#780a0e" stroke-width="0.75"/>
<circle cx="198.20" cy="471.50" r="2.58" fill="#c41016" stroke="#780a0e" stroke-width="0.75"/>
<circle cx="233.10" cy="466.00" r="2.58" fill="#c41016" stroke="#780a0e" stroke-width="0.75"/>
<circle cx="198.20" cy="473.50" r="2.58" fill="#c41016" stroke="#780a0e" stroke-width="0.75"/>
<circle cx="227.00" cy="444.80" r="2.58" fill="#c41016" stroke="#780a0e" stroke-width="0.75"/>
<circle cx="198.20" cy="475.50" r="2.58" fill="#c41016" stroke="#780a0e" stroke-width="0.75"/>
<circle cx="221.50" cy="470.00" r="2.58" fill="#c41016" stroke="#780a0e" stroke-width="0.75"/>
<circle cx="198.20" cy="477.50" r="2.58" fill="#c41016" stroke="#780a0e" stroke-width="0.75"/>
<circle cx="226.50" cy="469.00" r="2.58" fill="#c41016" stroke="#780a0e" stroke-width="0.75"/>
<circle cx="198.20" cy="479.50" r="2.58" fill="#c41016" stroke="#780a0e" stroke-width="0.75"/>
<circle cx="220.10" cy="474.60" r="2.58" fill="#c41016" stroke="#780a0e" stroke-width="0.75"/>
<circle cx="198.20" cy="481.50" r="2.58" fill="#c41016" stroke="#780a0e" stroke-width="0.75"/>
<circle cx="231.30" cy="475.50" r="2.58" fill="#c41016" stroke="#780a0e" stroke-width="0.75"/>
<circle cx="198.20" cy="483.50" r="2.58" fill="#c41016" stroke="#780a0e" stroke-width="0.75"/>
<circle cx="226.00" cy="476.00" r="2.58" fill="#c41016" stroke="#780a0e" stroke-width="0.75"/>
<circle cx="198.20" cy="485.00" r="2.58" fill="#c41016" stroke="#780a0e" stroke-width="0.75"/>
<circle cx="227.90" cy="480.70" r="2.58" fill="#c41016" stroke="#780a0e" stroke-width="0.75"/>
<circle cx="198.20" cy="486.00" r="2.58" fill="#c41016" stroke="#780a0e" stroke-width="0.75"/>
<circle cx="231.30" cy="480.70" r="2.58" fill="#c41016" stroke="#780a0e" stroke-width="0.75"/>
<circle cx="198.20" cy="472.50" r="2.58" fill="#c41016" stroke="#780a0e" stroke-width="0.75"/>
<circle cx="224.40" cy="483.30" r="2.58" fill="#c41016" stroke="#780a0e" stroke-width="0.75"/>
<circle cx="198.20" cy="478.50" r="2.58" fill="#c41016" stroke="#780a0e" stroke-width="0.75"/>
<circle cx="222.00" cy="479.00" r="2.58" fill="#c41016" stroke="#780a0e" stroke-width="0.75"/>
<circle cx="198.20" cy="484.50" r="2.58" fill="#c41016" stroke="#780a0e" stroke-width="0.75"/>
<circle cx="229.00" cy="472.00" r="2.58" fill="#c41016" stroke="#780a0e" stroke-width="0.75"/>
<circle cx="198.20" cy="494.00" r="2.58" fill="#c41016" stroke="#780a0e" stroke-width="0.75"/>
<circle cx="222.00" cy="478.00" r="2.58" fill="#c41016" stroke="#780a0e" stroke-width="0.75"/>
<circle cx="198.20" cy="496.00" r="2.58" fill="#c41016" stroke="#780a0e" stroke-width="0.75"/>
<circle cx="225.30" cy="487.10" r="2.58" fill="#c41016" stroke="#780a0e" stroke-width="0.75"/>
<circle cx="198.20" cy="498.00" r="2.58" fill="#c41016" stroke="#780a0e" stroke-width="0.75"/>
<circle cx="223.70" cy="486.80" r="2.58" fill="#c41016" stroke="#780a0e" stroke-width="0.75"/>
<circle cx="198.20" cy="500.00" r="2.58" fill="#c41016" stroke="#780a0e" stroke-width="0.75"/>
<circle cx="225.60" cy="493.00" r="2.58" fill="#c41016" stroke="#780a0e" stroke-width="0.75"/>
<circle cx="198.20" cy="502.00" r="2.58" fill="#c41016" stroke="#780a0e" stroke-width="0.75"/>
<circle cx="227.50" cy="486.80" r="2.58" fill="#c41016" stroke="#780a0e" stroke-width="0.75"/>
<circle cx="198.20" cy="504.00" r="2.58" fill="#c41016" stroke="#780a0e" stroke-width="0.75"/>
<circle cx="225.60" cy="503.20" r="2.58" fill="#c41016" stroke="#780a0e" stroke-width="0.75"/>
<circle cx="198.20" cy="506.00" r="2.58" fill="#c41016" stroke="#780a0e" stroke-width="0.75"/>
<circle cx="225.60" cy="509.40" r="2.58" fill="#c41016" stroke="#780a0e" stroke-width="0.75"/>
<circle cx="198.20" cy="506.00" r="2.58" fill="#c41016" stroke="#780a0e" stroke-width="0.75"/>
<circle cx="227.50" cy="540.10" r="2.58" fill="#c41016" stroke="#780a0e" stroke-width="0.75"/>
<circle cx="198.20" cy="510.40" r="2.58" fill="#c41016" stroke="#780a0e" stroke-width="0.75"/>
<circle cx="225.60" cy="532.90" r="2.58" fill="#c41016" stroke="#780a0e" stroke-width="0.75"/>
<circle cx="198.20" cy="519.80" r="2.58" fill="#c41016" stroke="#780a0e" stroke-width="0.75"/>
<circle cx="224.10" cy="540.10" r="2.58" fill="#c41016" stroke="#780a0e" stroke-width="0.75"/>
<circle cx="335.40" cy="469.50" r="2.58" fill="#c41016" stroke="#780a0e" stroke-width="0.75"/>
<circle cx="362.90" cy="465.60" r="2.58" fill="#c41016" stroke="#780a0e" stroke-width="0.75"/>
<circle cx="335.40" cy="472.00" r="2.58" fill="#c41016" stroke="#780a0e" stroke-width="0.75"/>
<circle cx="362.90" cy="465.60" r="2.58" fill="#c41016" stroke="#780a0e" stroke-width="0.75"/>
<circle cx="335.40" cy="474.50" r="2.58" fill="#c41016" stroke="#780a0e" stroke-width="0.75"/>
<circle cx="362.90" cy="474.70" r="2.58" fill="#c41016" stroke="#780a0e" stroke-width="0.75"/>
<circle cx="335.40" cy="477.50" r="2.58" fill="#c41016" stroke="#780a0e" stroke-width="0.75"/>
<circle cx="361.60" cy="480.30" r="2.58" fill="#c41016" stroke="#780a0e" stroke-width="0.75"/>
<circle cx="335.40" cy="476.00" r="2.58" fill="#c41016" stroke="#780a0e" stroke-width="0.75"/>
<circle cx="364.60" cy="482.50" r="2.58" fill="#c41016" stroke="#780a0e" stroke-width="0.75"/>
<circle cx="335.40" cy="488.00" r="2.58" fill="#c41016" stroke="#780a0e" stroke-width="0.75"/>
<circle cx="359.80" cy="486.00" r="2.58" fill="#c41016" stroke="#780a0e" stroke-width="0.75"/>
<circle cx="335.40" cy="490.50" r="2.58" fill="#c41016" stroke="#780a0e" stroke-width="0.75"/>
<circle cx="366.30" cy="488.50" r="2.58" fill="#c41016" stroke="#780a0e" stroke-width="0.75"/>
<circle cx="335.40" cy="493.00" r="2.58" fill="#c41016" stroke="#780a0e" stroke-width="0.75"/>
<circle cx="364.60" cy="490.90" r="2.58" fill="#c41016" stroke="#780a0e" stroke-width="0.75"/>
<circle cx="335.40" cy="495.50" r="2.58" fill="#c41016" stroke="#780a0e" stroke-width="0.75"/>
<circle cx="362.90" cy="495.20" r="2.58" fill="#c41016" stroke="#780a0e" stroke-width="0.75"/>
<circle cx="335.40" cy="498.00" r="2.58" fill="#c41016" stroke="#780a0e" stroke-width="0.75"/>
<circle cx="368.90" cy="500.40" r="2.58" fill="#c41016" stroke="#780a0e" stroke-width="0.75"/>
<circle cx="335.40" cy="500.50" r="2.58" fill="#c41016" stroke="#780a0e" stroke-width="0.75"/>
<circle cx="356.80" cy="500.40" r="2.58" fill="#c41016" stroke="#780a0e" stroke-width="0.75"/>
<circle cx="335.40" cy="503.00" r="2.58" fill="#c41016" stroke="#780a0e" stroke-width="0.75"/>
<circle cx="359.40" cy="506.40" r="2.58" fill="#c41016" stroke="#780a0e" stroke-width="0.75"/>
<circle cx="335.40" cy="505.50" r="2.58" fill="#c41016" stroke="#780a0e" stroke-width="0.75"/>
<circle cx="366.30" cy="509.00" r="2.58" fill="#c41016" stroke="#780a0e" stroke-width="0.75"/>
<circle cx="335.40" cy="508.00" r="2.58" fill="#c41016" stroke="#780a0e" stroke-width="0.75"/>
<circle cx="359.40" cy="513.40" r="2.58" fill="#c41016" stroke="#780a0e" stroke-width="0.75"/>
<circle cx="335.40" cy="510.50" r="2.58" fill="#c41016" stroke="#780a0e" stroke-width="0.75"/>
<circle cx="366.30" cy="516.80" r="2.58" fill="#c41016" stroke="#780a0e" stroke-width="0.75"/>
<circle cx="335.40" cy="512.50" r="2.58" fill="#c41016" stroke="#780a0e" stroke-width="0.75"/>
<circle cx="362.90" cy="511.60" r="2.58" fill="#c41016" stroke="#780a0e" stroke-width="0.75"/>
<circle cx="335.40" cy="511.00" r="2.58" fill="#c41016" stroke="#780a0e" stroke-width="0.75"/>
<circle cx="361.00" cy="498.00" r="2.58" fill="#c41016" stroke="#780a0e" stroke-width="0.75"/>
<circle cx="335.40" cy="489.00" r="2.58" fill="#c41016" stroke="#780a0e" stroke-width="0.75"/>
<circle cx="368.90" cy="498.00" r="2.58" fill="#c41016" stroke="#780a0e" stroke-width="0.75"/>
<circle cx="335.40" cy="492.00" r="2.58" fill="#c41016" stroke="#780a0e" stroke-width="0.75"/>
<circle cx="362.00" cy="503.00" r="2.58" fill="#c41016" stroke="#780a0e" stroke-width="0.75"/>
<circle cx="335.40" cy="520.50" r="2.58" fill="#c41016" stroke="#780a0e" stroke-width="0.75"/>
<circle cx="360.00" cy="491.00" r="2.58" fill="#c41016" stroke="#780a0e" stroke-width="0.75"/>
<circle cx="335.40" cy="525.50" r="2.58" fill="#c41016" stroke="#780a0e" stroke-width="0.75"/>
<circle cx="363.00" cy="496.00" r="2.58" fill="#c41016" stroke="#780a0e" stroke-width="0.75"/>
<circle cx="335.40" cy="497.00" r="2.58" fill="#c41016" stroke="#780a0e" stroke-width="0.75"/>
<circle cx="357.00" cy="492.00" r="2.58" fill="#c41016" stroke="#780a0e" stroke-width="0.75"/>
<circle cx="335.40" cy="501.00" r="2.58" fill="#c41016" stroke="#780a0e" stroke-width="0.75"/>
<circle cx="358.50" cy="497.00" r="2.58" fill="#c41016" stroke="#780a0e" stroke-width="0.75"/>
<circle cx="335.40" cy="499.00" r="2.58" fill="#c41016" stroke="#780a0e" stroke-width="0.75"/>
<circle cx="362.50" cy="499.00" r="2.58" fill="#c41016" stroke="#780a0e" stroke-width="0.75"/>
<circle cx="335.40" cy="504.00" r="2.58" fill="#c41016" stroke="#780a0e" stroke-width="0.75"/>
<circle cx="365.00" cy="503.50" r="2.58" fill="#c41016" stroke="#780a0e" stroke-width="0.75"/>
<circle cx="335.40" cy="506.50" r="2.58" fill="#c41016" stroke="#780a0e" stroke-width="0.75"/>
<circle cx="357.50" cy="505.50" r="2.58" fill="#c41016" stroke="#780a0e" stroke-width="0.75"/>
<circle cx="335.40" cy="509.00" r="2.58" fill="#c41016" stroke="#780a0e" stroke-width="0.75"/>
<circle cx="361.50" cy="507.50" r="2.58" fill="#c41016" stroke="#780a0e" stroke-width="0.75"/>
<circle cx="335.40" cy="494.00" r="2.58" fill="#c41016" stroke="#780a0e" stroke-width="0.75"/>
<circle cx="364.00" cy="506.00" r="2.58" fill="#c41016" stroke="#780a0e" stroke-width="0.75"/>
<circle cx="335.40" cy="496.00" r="2.58" fill="#c41016" stroke="#780a0e" stroke-width="0.75"/>
<circle cx="367.50" cy="493.50" r="2.58" fill="#c41016" stroke="#780a0e" stroke-width="0.75"/>
<circle cx="335.40" cy="542.20" r="2.58" fill="#c41016" stroke="#780a0e" stroke-width="0.75"/>
<circle cx="365.70" cy="517.60" r="2.58" fill="#c41016" stroke="#780a0e" stroke-width="0.75"/>
<circle cx="335.40" cy="585.20" r="2.58" fill="#c41016" stroke="#780a0e" stroke-width="0.75"/>
<circle cx="362.60" cy="534.60" r="2.58" fill="#c41016" stroke="#780a0e" stroke-width="0.75"/>
<circle cx="335.40" cy="564.00" r="2.58" fill="#c41016" stroke="#780a0e" stroke-width="0.75"/>
<circle cx="362.60" cy="564.00" r="2.58" fill="#c41016" stroke="#780a0e" stroke-width="0.75"/>
<circle cx="335.40" cy="585.20" r="2.58" fill="#c41016" stroke="#780a0e" stroke-width="0.75"/>
<circle cx="361.70" cy="585.20" r="2.58" fill="#c41016" stroke="#780a0e" stroke-width="0.75"/>
<circle cx="335.40" cy="585.20" r="2.58" fill="#c41016" stroke="#780a0e" stroke-width="0.75"/>
<circle cx="365.00" cy="585.20" r="2.58" fill="#c41016" stroke="#780a0e" stroke-width="0.75"/>
<circle cx="472.60" cy="440.30" r="2.58" fill="#c41016" stroke="#780a0e" stroke-width="0.75"/>
<circle cx="472.60" cy="443.20" r="2.58" fill="#c41016" stroke="#780a0e" stroke-width="0.75"/>
<circle cx="472.60" cy="446.50" r="2.58" fill="#c41016" stroke="#780a0e" stroke-width="0.75"/>
<circle cx="472.60" cy="449.90" r="2.58" fill="#c41016" stroke="#780a0e" stroke-width="0.75"/>
<circle cx="472.60" cy="457.60" r="2.58" fill="#c41016" stroke="#780a0e" stroke-width="0.75"/>
<circle cx="472.60" cy="464.80" r="2.58" fill="#c41016" stroke="#780a0e" stroke-width="0.75"/>
<circle cx="472.60" cy="472.00" r="2.58" fill="#c41016" stroke="#780a0e" stroke-width="0.75"/>
<circle cx="472.60" cy="474.20" r="2.58" fill="#c41016" stroke="#780a0e" stroke-width="0.75"/>
<circle cx="472.60" cy="479.40" r="2.58" fill="#c41016" stroke="#780a0e" stroke-width="0.75"/>
<circle cx="472.60" cy="482.30" r="2.58" fill="#c41016" stroke="#780a0e" stroke-width="0.75"/>
<circle cx="472.60" cy="484.45" r="2.58" fill="#c41016" stroke="#780a0e" stroke-width="0.75"/>
<circle cx="472.60" cy="486.60" r="2.58" fill="#c41016" stroke="#780a0e" stroke-width="0.75"/>
<circle cx="472.60" cy="488.75" r="2.58" fill="#c41016" stroke="#780a0e" stroke-width="0.75"/>
<circle cx="472.60" cy="490.90" r="2.58" fill="#c41016" stroke="#780a0e" stroke-width="0.75"/>
<circle cx="472.60" cy="493.05" r="2.58" fill="#c41016" stroke="#780a0e" stroke-width="0.75"/>
<circle cx="472.60" cy="495.20" r="2.58" fill="#c41016" stroke="#780a0e" stroke-width="0.75"/>
<circle cx="472.60" cy="497.35" r="2.58" fill="#c41016" stroke="#780a0e" stroke-width="0.75"/>
<circle cx="472.60" cy="499.50" r="2.58" fill="#c41016" stroke="#780a0e" stroke-width="0.75"/>
<circle cx="472.60" cy="501.65" r="2.58" fill="#c41016" stroke="#780a0e" stroke-width="0.75"/>
<circle cx="472.60" cy="503.80" r="2.58" fill="#c41016" stroke="#780a0e" stroke-width="0.75"/>
<circle cx="472.60" cy="505.95" r="2.58" fill="#c41016" stroke="#780a0e" stroke-width="0.75"/>
<circle cx="472.60" cy="508.10" r="2.58" fill="#c41016" stroke="#780a0e" stroke-width="0.75"/>
<circle cx="472.60" cy="512.40" r="2.58" fill="#c41016" stroke="#780a0e" stroke-width="0.75"/>
<circle cx="472.60" cy="514.55" r="2.58" fill="#c41016" stroke="#780a0e" stroke-width="0.75"/>
<circle cx="472.60" cy="516.70" r="2.58" fill="#c41016" stroke="#780a0e" stroke-width="0.75"/>
<circle cx="472.60" cy="518.85" r="2.58" fill="#c41016" stroke="#780a0e" stroke-width="0.75"/>
<circle cx="472.60" cy="521.00" r="2.58" fill="#c41016" stroke="#780a0e" stroke-width="0.75"/>
<circle cx="472.60" cy="523.15" r="2.58" fill="#c41016" stroke="#780a0e" stroke-width="0.75"/>
<circle cx="472.60" cy="525.30" r="2.58" fill="#c41016" stroke="#780a0e" stroke-width="0.75"/>
<circle cx="472.60" cy="527.45" r="2.58" fill="#c41016" stroke="#780a0e" stroke-width="0.75"/>
<circle cx="472.60" cy="529.60" r="2.58" fill="#c41016" stroke="#780a0e" stroke-width="0.75"/>
<circle cx="472.60" cy="531.75" r="2.58" fill="#c41016" stroke="#780a0e" stroke-width="0.75"/>
<circle cx="472.60" cy="533.90" r="2.58" fill="#c41016" stroke="#780a0e" stroke-width="0.75"/>
<circle cx="472.60" cy="536.05" r="2.58" fill="#c41016" stroke="#780a0e" stroke-width="0.75"/>
<circle cx="472.60" cy="538.20" r="2.58" fill="#c41016" stroke="#780a0e" stroke-width="0.75"/>
<circle cx="472.60" cy="540.35" r="2.58" fill="#c41016" stroke="#780a0e" stroke-width="0.75"/>
<circle cx="472.60" cy="542.50" r="2.58" fill="#c41016" stroke="#780a0e" stroke-width="0.75"/>
<circle cx="472.60" cy="544.65" r="2.58" fill="#c41016" stroke="#780a0e" stroke-width="0.75"/>
<circle cx="472.60" cy="563.20" r="2.58" fill="#c41016" stroke="#780a0e" stroke-width="0.75"/>
<circle cx="472.60" cy="565.20" r="2.58" fill="#c41016" stroke="#780a0e" stroke-width="0.75"/>
<circle cx="472.60" cy="570.70" r="2.58" fill="#c41016" stroke="#780a0e" stroke-width="0.75"/>
<circle cx="472.60" cy="573.90" r="2.58" fill="#c41016" stroke="#780a0e" stroke-width="0.75"/>
<circle cx="472.60" cy="580.20" r="2.58" fill="#c41016" stroke="#780a0e" stroke-width="0.75"/>
<circle cx="499.10" cy="448.90" r="2.58" fill="#c41016" stroke="#780a0e" stroke-width="0.75"/>
<circle cx="502.00" cy="451.80" r="2.58" fill="#c41016" stroke="#780a0e" stroke-width="0.75"/>
<circle cx="500.10" cy="456.60" r="2.58" fill="#c41016" stroke="#780a0e" stroke-width="0.75"/>
<circle cx="499.10" cy="464.30" r="2.58" fill="#c41016" stroke="#780a0e" stroke-width="0.75"/>
<circle cx="499.10" cy="466.00" r="2.58" fill="#c41016" stroke="#780a0e" stroke-width="0.75"/>
<circle cx="501.50" cy="468.70" r="2.58" fill="#c41016" stroke="#780a0e" stroke-width="0.75"/>
<circle cx="498.70" cy="474.60" r="2.58" fill="#c41016" stroke="#780a0e" stroke-width="0.75"/>
<circle cx="503.50" cy="476.50" r="2.58" fill="#c41016" stroke="#780a0e" stroke-width="0.75"/>
<circle cx="500.60" cy="483.30" r="2.58" fill="#c41016" stroke="#780a0e" stroke-width="0.75"/>
<circle cx="501.50" cy="489.00" r="2.58" fill="#c41016" stroke="#780a0e" stroke-width="0.75"/>
<circle cx="500.10" cy="494.80" r="2.58" fill="#c41016" stroke="#780a0e" stroke-width="0.75"/>
<circle cx="503.50" cy="498.70" r="2.58" fill="#c41016" stroke="#780a0e" stroke-width="0.75"/>
<circle cx="505.40" cy="502.50" r="2.58" fill="#c41016" stroke="#780a0e" stroke-width="0.75"/>
<circle cx="500.50" cy="459.00" r="2.58" fill="#c41016" stroke="#780a0e" stroke-width="0.75"/>
<circle cx="499.50" cy="461.50" r="2.58" fill="#c41016" stroke="#780a0e" stroke-width="0.75"/>
<circle cx="502.00" cy="471.50" r="2.58" fill="#c41016" stroke="#780a0e" stroke-width="0.75"/>
<circle cx="500.00" cy="479.00" r="2.58" fill="#c41016" stroke="#780a0e" stroke-width="0.75"/>
<circle cx="502.50" cy="481.00" r="2.58" fill="#c41016" stroke="#780a0e" stroke-width="0.75"/>
<circle cx="499.50" cy="486.00" r="2.58" fill="#c41016" stroke="#780a0e" stroke-width="0.75"/>
<circle cx="503.00" cy="491.50" r="2.58" fill="#c41016" stroke="#780a0e" stroke-width="0.75"/>
<circle cx="500.50" cy="492.00" r="2.58" fill="#c41016" stroke="#780a0e" stroke-width="0.75"/>
<circle cx="502.00" cy="496.50" r="2.58" fill="#c41016" stroke="#780a0e" stroke-width="0.75"/>
<circle cx="495.30" cy="500.00" r="2.58" fill="#c41016" stroke="#780a0e" stroke-width="0.75"/>
<circle cx="500.30" cy="501.60" r="2.58" fill="#c41016" stroke="#780a0e" stroke-width="0.75"/>
<circle cx="505.00" cy="503.20" r="2.58" fill="#c41016" stroke="#780a0e" stroke-width="0.75"/>
<circle cx="495.30" cy="504.80" r="2.58" fill="#c41016" stroke="#780a0e" stroke-width="0.75"/>
<circle cx="500.30" cy="506.40" r="2.58" fill="#c41016" stroke="#780a0e" stroke-width="0.75"/>
<circle cx="505.00" cy="508.00" r="2.58" fill="#c41016" stroke="#780a0e" stroke-width="0.75"/>
<circle cx="495.30" cy="509.60" r="2.58" fill="#c41016" stroke="#780a0e" stroke-width="0.75"/>
<circle cx="500.30" cy="511.20" r="2.58" fill="#c41016" stroke="#780a0e" stroke-width="0.75"/>
<circle cx="505.00" cy="512.80" r="2.58" fill="#c41016" stroke="#780a0e" stroke-width="0.75"/>
<circle cx="495.30" cy="514.40" r="2.58" fill="#c41016" stroke="#780a0e" stroke-width="0.75"/>
<circle cx="500.30" cy="516.00" r="2.58" fill="#c41016" stroke="#780a0e" stroke-width="0.75"/>
<circle cx="505.00" cy="517.60" r="2.58" fill="#c41016" stroke="#780a0e" stroke-width="0.75"/>
<circle cx="495.30" cy="519.20" r="2.58" fill="#c41016" stroke="#780a0e" stroke-width="0.75"/>
<circle cx="500.30" cy="520.80" r="2.58" fill="#c41016" stroke="#780a0e" stroke-width="0.75"/>
<circle cx="505.00" cy="522.40" r="2.58" fill="#c41016" stroke="#780a0e" stroke-width="0.75"/>
<circle cx="495.30" cy="524.00" r="2.58" fill="#c41016" stroke="#780a0e" stroke-width="0.75"/>
<circle cx="500.30" cy="525.60" r="2.58" fill="#c41016" stroke="#780a0e" stroke-width="0.75"/>
<circle cx="505.00" cy="527.20" r="2.58" fill="#c41016" stroke="#780a0e" stroke-width="0.75"/>
<circle cx="495.30" cy="528.80" r="2.58" fill="#c41016" stroke="#780a0e" stroke-width="0.75"/>
<circle cx="500.30" cy="530.40" r="2.58" fill="#c41016" stroke="#780a0e" stroke-width="0.75"/>
<circle cx="507.30" cy="507.70" r="2.58" fill="#c41016" stroke="#780a0e" stroke-width="0.75"/>
<circle cx="508.30" cy="520.20" r="2.58" fill="#c41016" stroke="#780a0e" stroke-width="0.75"/>
<circle cx="504.40" cy="526.00" r="2.58" fill="#c41016" stroke="#780a0e" stroke-width="0.75"/>
<circle cx="503.50" cy="533.70" r="2.58" fill="#c41016" stroke="#780a0e" stroke-width="0.75"/>
<circle cx="500.60" cy="533.40" r="2.58" fill="#c41016" stroke="#780a0e" stroke-width="0.75"/>
<circle cx="500.10" cy="547.30" r="2.58" fill="#c41016" stroke="#780a0e" stroke-width="0.75"/>
<circle cx="499.60" cy="562.70" r="2.58" fill="#c41016" stroke="#780a0e" stroke-width="0.75"/>
<circle cx="501.50" cy="565.60" r="2.58" fill="#c41016" stroke="#780a0e" stroke-width="0.75"/>
<circle cx="500.20" cy="568.60" r="2.58" fill="#c41016" stroke="#780a0e" stroke-width="0.75"/>
<circle cx="501.80" cy="570.70" r="2.58" fill="#c41016" stroke="#780a0e" stroke-width="0.75"/>
<circle cx="500.70" cy="573.30" r="2.58" fill="#c41016" stroke="#780a0e" stroke-width="0.75"/>
<circle cx="472.60" cy="591.90" r="2.58" fill="#c41016" stroke="#780a0e" stroke-width="0.75"/>
<circle cx="500.20" cy="594.50" r="2.58" fill="#c41016" stroke="#780a0e" stroke-width="0.75"/>
</svg></body></html>
